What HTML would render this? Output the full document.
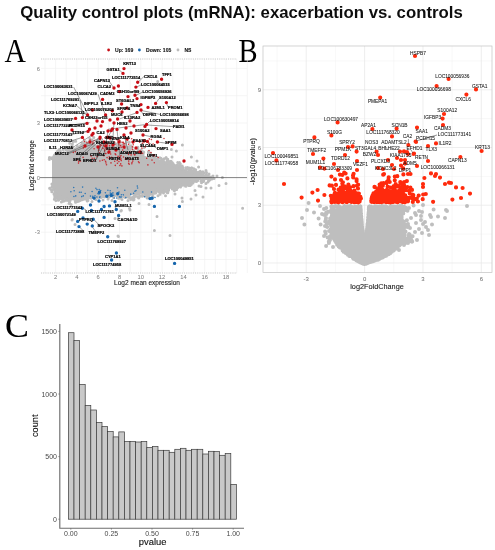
<!DOCTYPE html>
<html><head><meta charset="utf-8"><title>Quality control plots</title>
<style>html,body{margin:0;padding:0;background:#fff;}svg{display:block;font-family:"Liberation Sans",sans-serif;}</style></head>
<body><svg width="495" height="550" viewBox="0 0 495 550">
<defs><filter id="bl" x="0" y="0" width="495" height="550" filterUnits="userSpaceOnUse"><feGaussianBlur stdDeviation="0.35"/></filter></defs>
<g filter="url(#bl)">
<rect width="495" height="550" fill="#fff"/>
<text x="241.5" y="17.7" font-size="16.78" font-weight="bold" text-anchor="middle" fill="#111">Quality control plots (mRNA): exacerbation vs. controls</text>
<text transform="translate(4.6,62.4) scale(0.86,1)" font-size="34.5" font-family="Liberation Serif, serif" fill="#000">A</text>
<text transform="translate(238.6,62.2) scale(0.83,1)" font-size="34.5" font-family="Liberation Serif, serif" fill="#000">B</text>
<text transform="translate(5,337.2) scale(1.04,1)" font-size="34.5" font-family="Liberation Serif, serif" fill="#000">C</text>
<path d="M45.0 59V273M55.6 59V273M66.2 59V273M76.9 59V273M87.6 59V273M98.2 59V273M108.8 59V273M119.5 59V273M130.2 59V273M140.8 59V273M151.5 59V273M162.1 59V273M172.8 59V273M183.4 59V273M194.1 59V273M204.7 59V273M215.3 59V273M226.0 59V273M236.7 59V273M247.3 59V273M41 259.5H247M41 232.2H247M41 204.9H247M41 150.3H247M41 123.0H247M41 95.7H247M41 68.4H247" stroke="#eeeeee" stroke-width="0.6" fill="none"/>
<path d="M41 59H237M41 273H237" stroke="#b8b8b8" stroke-width="0.8" stroke-dasharray="1.1 1.1" fill="none"/>
<polygon points="52,159.5 56,158.0 60,156.5 66,154.5 72,151.0 80,149.0 90,147.5 100,147.0 110,147.0 120,148.0 130,150.0 140,154.0 153,159.0 163,162.0 173,165.0 183,168.5 193.5,172.5 200,175.5 205,177.3 209,178.3 209,176.4 205,177.9 195,179.9 185,183.4 175,187.4 165,190.4 155,192.4 145,193.9 135,194.9 127,194.9 115,194.4 100,194.9 90,195.9 82,197.9 77,199.9 70,200.4 62,199.4 57,197.5 54,192.5 52,186.5" fill="#bcbcbc"/>
<path d="M50.9 157.8h0M52.9 157.4h0M52.2 158.8h0M49.3 159.5h0M49.2 159.2h0M49.4 157.5h0M55.5 159.6h0M53.7 156.6h0M56.8 160.2h0M56.5 157.5h0M58.9 155.7h0M58.2 156.9h0M57.9 154.6h0M58.9 158.1h0M58.1 156.9h0M60.8 155.9h0M60.3 154.3h0M57.4 155.0h0M67.1 154.1h0M64.9 154.9h0M65.7 153.5h0M67.8 155.5h0M64.5 154.9h0M66.2 156.4h0M73.4 149.9h0M74.9 149.1h0M71.5 152.3h0M69.9 150.9h0M69.2 151.8h0M73.6 151.4h0M82.3 148.1h0M81.2 149.5h0M80.5 148.8h0M82.0 151.2h0M79.8 149.8h0M77.4 150.0h0M90.9 150.0h0M91.9 146.4h0M89.3 148.3h0M87.1 147.3h0M88.0 145.6h0M87.4 148.8h0M97.8 145.7h0M99.3 148.9h0M97.5 146.7h0M100.3 148.9h0M101.9 148.8h0M98.7 146.6h0M109.2 148.9h0M112.7 145.3h0M108.1 145.7h0M108.4 146.9h0M110.5 145.8h0M107.0 146.6h0M119.2 148.3h0M122.7 149.0h0M120.1 148.6h0M121.1 145.8h0M122.4 149.4h0M122.2 149.5h0M129.4 149.5h0M127.6 150.7h0M127.4 147.8h0M128.3 148.3h0M129.0 147.8h0M127.0 148.3h0M137.6 153.3h0M137.2 155.9h0M140.7 152.2h0M138.5 153.2h0M139.2 152.1h0M142.1 156.5h0M152.8 158.9h0M150.5 157.0h0M152.1 157.8h0M155.0 157.3h0M150.1 161.3h0M153.2 157.2h0M163.3 159.6h0M163.2 164.4h0M165.2 163.0h0M161.6 161.3h0M161.0 163.4h0M163.2 163.4h0M172.0 163.6h0M174.9 167.4h0M175.1 166.5h0M174.9 166.2h0M171.4 165.1h0M172.1 162.6h0M180.2 167.4h0M181.6 169.5h0M185.7 168.2h0M185.6 170.9h0M185.7 167.8h0M181.3 167.1h0M191.7 171.0h0M194.2 174.5h0M195.5 172.4h0M194.4 174.0h0M191.0 173.3h0M196.0 173.9h0M201.5 175.4h0M198.1 176.9h0M199.0 177.0h0M202.8 175.0h0M199.4 177.7h0M201.3 173.9h0M202.8 175.6h0M207.4 178.8h0M202.9 178.9h0M207.9 178.1h0M204.1 177.5h0M202.8 174.9h0M211.8 179.0h0M209.2 180.5h0M208.6 180.2h0M211.0 176.9h0M207.5 177.3h0M207.4 178.7h0M207.6 176.0h0M206.8 178.5h0M208.1 176.2h0M209.5 178.4h0M208.5 178.5h0M209.0 176.6h0M205.1 175.5h0M204.6 176.3h0M202.0 179.4h0M203.0 177.8h0M206.4 178.2h0M204.0 178.0h0M195.3 181.3h0M192.6 180.2h0M193.5 178.8h0M196.6 179.9h0M195.4 181.2h0M197.5 179.6h0M185.7 183.4h0M185.1 184.4h0M184.7 183.6h0M184.9 185.6h0M186.2 185.3h0M187.7 182.2h0M175.4 189.6h0M177.0 185.6h0M172.7 187.1h0M172.4 186.1h0M172.4 188.2h0M176.7 189.4h0M162.9 191.5h0M166.0 188.6h0M167.3 192.7h0M163.3 192.7h0M164.4 190.3h0M167.9 192.1h0M153.0 192.1h0M155.1 191.6h0M153.2 191.5h0M156.3 190.0h0M155.3 192.1h0M152.1 191.6h0M145.7 194.0h0M142.4 196.3h0M146.7 196.3h0M142.6 192.7h0M142.2 195.3h0M143.6 192.0h0M134.5 197.0h0M136.9 193.7h0M132.9 197.0h0M135.4 195.9h0M132.5 192.7h0M136.1 194.5h0M124.4 197.1h0M127.8 196.4h0M124.5 196.7h0M124.4 196.7h0M126.7 194.1h0M127.3 197.0h0M113.6 192.5h0M115.2 193.1h0M112.7 192.7h0M112.3 192.9h0M113.9 193.4h0M116.6 193.3h0M100.0 193.3h0M99.1 192.5h0M98.5 192.5h0M101.4 195.2h0M98.1 194.8h0M102.6 192.9h0M91.9 195.6h0M90.0 197.6h0M89.4 195.9h0M91.1 198.3h0M89.1 197.6h0M91.2 196.6h0M81.4 197.1h0M79.3 196.0h0M79.4 199.1h0M80.5 196.2h0M79.5 199.6h0M84.2 198.8h0M75.7 198.6h0M75.8 199.7h0M74.9 199.6h0M75.6 202.2h0M79.8 200.1h0M75.5 202.2h0M68.9 199.7h0M67.0 199.8h0M69.8 200.4h0M68.2 200.4h0M67.0 199.2h0M67.5 199.9h0M59.3 197.0h0M60.8 198.1h0M62.5 199.5h0M63.5 200.2h0M63.3 201.3h0M61.3 198.5h0M59.9 195.7h0M58.3 198.2h0M54.3 199.2h0M59.4 198.1h0M58.4 199.1h0M54.8 197.6h0M54.0 194.2h0M55.8 194.1h0M54.5 194.5h0M55.1 193.5h0M52.4 190.2h0M51.8 191.8h0M49.6 188.2h0M52.4 187.1h0M52.8 187.4h0M51.9 184.0h0M53.8 187.7h0M52.0 186.7h0M154.9 156.2h0M92.6 145.4h0M65.4 154.6h0M85.4 142.6h0M167.2 160.8h0M112.5 147.1h0M127.3 147.3h0M148.4 151.8h0M152.3 157.9h0M92.9 146.9h0M167.7 162.8h0M55.9 153.9h0M63.3 155.2h0M159.9 157.7h0M157.4 160.0h0M125.1 145.1h0M125.3 143.7h0M84.5 143.4h0M203.7 176.9h0M124.2 149.1h0M179.4 165.0h0M95.1 146.9h0M86.1 146.1h0M143.0 154.8h0M75.7 141.3h0M74.3 149.5h0M179.5 162.4h0M161.6 161.8h0M89.4 144.6h0M57.8 155.2h0M54.5 154.9h0M100.2 147.3h0M75.5 148.8h0M182.6 167.0h0M54.3 159.1h0M72.4 144.1h0M195.7 172.7h0M98.3 139.6h0M110.9 136.7h0M144.1 147.4h0M109.2 144.8h0M61.4 155.2h0M69.6 151.3h0M197.1 172.8h0M92.1 147.4h0M83.0 144.5h0M111.1 140.0h0M178.2 165.9h0M150.5 153.3h0M138.0 149.0h0M164.1 158.8h0M123.0 147.2h0M169.2 163.0h0M61.5 154.0h0M195.8 172.0h0M106.6 144.4h0M99.6 146.8h0M93.8 137.4h0M154.4 158.9h0M114.3 143.3h0M79.6 148.2h0M192.6 171.2h0M130.1 149.0h0M206.5 172.6h0M122.8 147.5h0M67.9 152.0h0M106.3 145.1h0M93.5 146.3h0M141.2 150.1h0M117.2 144.1h0M117.3 144.6h0M105.7 146.9h0M63.5 154.1h0M73.3 141.4h0M131.0 145.7h0M87.0 142.9h0M95.5 147.7h0M122.2 145.1h0M200.0 172.9h0M57.3 151.7h0M58.9 155.4h0M126.4 142.0h0M143.8 152.2h0M195.8 174.1h0M180.3 163.8h0M92.0 139.9h0M70.7 149.7h0M158.4 158.5h0M198.0 174.4h0M171.0 161.2h0M124.0 148.3h0M173.7 165.5h0M89.6 143.3h0M100.5 144.9h0M73.6 151.0h0M160.9 158.2h0M71.2 147.8h0M143.2 153.7h0M113.4 147.0h0M55.6 153.6h0M100.1 138.2h0M152.6 157.7h0M189.2 169.5h0M91.8 147.5h0M201.0 175.7h0M57.3 154.9h0M130.2 148.8h0M93.4 144.3h0M156.1 158.8h0M59.2 156.1h0M105.7 142.4h0M84.3 146.1h0M176.0 166.3h0M85.4 144.2h0M202.4 175.0h0M89.3 141.6h0M87.9 148.1h0M199.6 173.7h0M129.9 149.4h0M117.8 145.8h0M155.8 158.9h0M114.2 147.2h0M86.6 146.4h0M61.9 156.0h0M63.2 149.6h0M189.2 167.9h0M166.1 157.4h0M104.4 147.4h0M82.4 143.4h0M58.9 155.0h0M155.7 158.5h0M104.7 145.0h0M79.9 146.4h0M107.8 147.4h0M200.2 171.3h0M85.7 141.8h0M108.6 144.4h0M120.2 142.2h0M61.5 152.9h0M194.7 173.1h0M83.5 143.6h0M58.6 151.4h0M116.9 145.7h0M60.2 150.9h0M59.3 149.4h0M93.3 144.6h0M168.3 162.2h0M95.7 145.7h0M200.5 174.7h0M163.6 161.3h0M102.4 147.4h0M169.6 164.3h0M194.2 169.2h0M57.7 151.1h0M89.8 138.6h0M199.9 175.0h0M113.1 147.8h0M129.5 146.4h0M196.0 172.2h0M167.0 159.4h0M179.9 167.4h0M104.2 142.4h0M102.9 143.2h0M66.1 149.9h0M84.2 148.8h0M63.9 152.8h0M59.2 154.1h0M204.0 176.7h0M189.2 169.3h0M66.9 154.3h0M68.8 147.4h0M122.4 148.9h0M89.8 143.4h0M157.1 158.9h0M168.4 161.9h0M72.5 146.8h0M182.7 168.0h0M111.1 142.9h0M166.9 163.1h0M91.5 145.2h0M77.5 146.4h0M103.9 144.2h0M114.6 143.4h0M89.4 147.9h0M177.7 162.6h0M69.7 143.3h0M126.6 146.8h0M193.9 168.7h0M60.2 156.4h0M83.0 147.2h0M202.9 171.8h0M111.0 143.2h0M186.5 168.4h0M173.0 164.9h0M198.7 172.6h0M148.9 154.7h0M87.3 147.0h0M85.2 147.2h0M93.0 143.4h0M85.1 145.5h0M55.7 155.9h0M82.3 144.1h0M101.8 145.5h0M137.9 147.2h0M63.7 152.7h0M138.2 151.5h0M151.8 157.7h0M160.4 160.9h0M116.7 147.5h0M199.8 173.7h0M101.8 144.2h0M117.7 146.8h0M186.2 167.8h0M84.2 148.8h0M165.4 163.1h0M191.9 172.1h0M118.8 146.7h0M189.1 168.9h0M124.5 149.1h0M138.4 153.3h0M152.0 158.2h0M149.2 157.2h0M110.7 145.4h0M97.3 147.6h0M133.7 150.4h0M129.0 149.5h0M177.1 165.3h0M73.4 150.6h0M198.3 172.3h0M62.2 155.6h0M195.7 169.7h0M148.9 152.6h0M180.2 165.6h0M88.0 142.7h0M115.9 144.0h0M82.0 143.3h0M87.4 144.7h0M112.7 145.1h0M72.8 151.2h0M191.3 168.0h0M60.3 151.0h0M59.8 154.6h0M182.2 166.1h0M138.2 150.3h0M149.9 156.9h0M143.1 152.0h0M119.1 146.2h0M121.1 145.2h0M57.6 154.7h0M90.0 145.0h0M170.8 164.3h0M81.5 145.1h0M126.4 148.2h0M119.9 147.2h0M68.0 149.6h0M60.2 155.3h0M151.4 155.2h0M173.0 163.4h0M132.3 147.2h0M111.8 146.2h0M199.5 172.4h0M206.4 174.3h0M166.0 162.7h0M204.2 175.9h0M129.3 142.2h0M79.3 147.4h0M174.6 165.2h0M107.7 146.9h0M169.7 161.5h0M96.1 140.9h0M178.8 165.6h0M194.7 171.2h0M85.9 148.3h0M102.8 143.0h0M59.6 156.2h0M197.3 173.3h0M158.0 159.7h0M174.1 164.9h0M71.6 146.4h0M109.0 146.5h0M187.6 167.5h0M189.0 170.1h0M70.0 147.3h0M114.3 147.7h0M176.0 165.8h0M142.3 143.9h0M109.1 147.1h0M81.0 145.3h0M167.8 159.3h0M92.8 145.8h0M151.8 155.6h0M155.5 159.9h0M101.8 146.5h0M76.9 150.3h0M148.3 153.5h0M191.0 170.8h0M74.2 150.2h0M57.4 152.5h0M54.4 158.0h0M108.6 146.1h0M88.3 198.6h0M85.2 198.2h0M149.5 194.0h0M197.3 179.1h0M91.3 195.9h0M151.6 193.3h0M187.3 182.6h0M94.4 197.3h0M55.8 196.8h0M107.6 196.6h0M152.8 197.5h0M166.2 191.5h0M92.0 195.8h0M135.3 194.8h0M116.1 194.0h0M173.2 188.3h0M55.9 200.6h0M75.8 201.3h0M84.5 199.0h0M152.2 194.1h0M178.4 186.5h0M99.9 196.2h0M61.4 201.9h0M163.5 192.9h0M55.0 195.8h0M125.2 197.6h0M167.5 190.8h0M70.1 200.4h0M89.5 197.6h0M168.7 189.3h0M160.4 193.0h0M94.7 198.1h0M138.7 197.9h0M134.1 196.1h0M94.6 198.8h0M87.2 200.9h0M188.6 183.5h0M90.1 195.6h0M167.8 192.8h0M104.0 195.6h0M188.7 182.5h0M192.9 181.7h0M150.5 193.8h0M203.8 181.0h0M125.8 196.3h0M185.2 186.0h0M120.9 194.6h0M101.1 197.4h0M86.4 197.0h0M193.4 180.6h0M76.1 200.6h0M196.1 179.4h0M106.8 194.5h0M60.4 198.7h0M160.0 193.4h0M166.7 192.1h0M64.1 201.1h0M179.1 186.5h0M179.4 185.8h0M186.8 182.8h0M193.9 180.9h0M85.5 196.9h0M71.1 204.4h0M178.2 186.6h0M151.0 194.0h0M98.0 197.6h0M69.3 203.1h0M85.4 198.9h0M102.8 194.7h0M93.3 195.3h0M97.2 195.2h0M103.1 196.5h0M201.5 182.8h0M148.6 193.0h0M58.7 199.9h0M172.3 189.1h0M107.1 195.0h0M87.1 199.0h0M185.9 186.3h0M80.1 200.6h0M54.2 193.5h0M203.6 181.6h0M54.7 195.9h0M175.9 186.7h0M82.2 199.6h0M181.3 184.5h0M93.9 196.9h0M86.9 196.9h0M161.0 191.9h0M151.4 192.5h0M66.4 200.3h0M174.4 190.7h0M150.1 194.1h0M114.4 195.8h0M190.2 185.4h0M57.9 199.9h0M85.5 196.9h0M130.7 199.5h0M112.0 195.3h0M124.5 195.5h0M135.3 194.5h0M152.9 196.2h0M107.3 194.8h0M183.0 184.9h0M155.3 191.9h0M121.1 195.6h0M172.3 188.8h0M124.7 194.9h0M189.4 181.5h0M100.1 196.0h0M161.6 191.4h0M77.9 200.2h0M91.9 196.6h0M78.6 201.3h0M104.2 196.7h0M165.5 195.8h0M69.6 200.9h0M112.8 194.2h0M204.5 178.6h0M120.5 197.9h0M84.0 197.6h0M85.6 197.4h0M113.4 196.3h0M175.0 187.4h0M160.1 194.3h0M124.9 194.3h0M75.7 201.4h0M167.4 190.7h0M192.9 183.0h0M168.6 190.2h0M118.4 194.6h0M188.7 185.4h0M172.4 189.1h0M158.0 195.8h0M152.2 194.3h0M150.1 193.2h0M69.0 203.4h0M163.1 192.3h0M150.3 192.6h0M123.6 196.8h0M149.1 195.8h0M196.3 181.1h0M82.0 199.8h0M113.5 197.4h0M128.9 195.1h0M137.1 194.3h0M78.6 199.9h0M133.4 200.0h0M69.5 202.5h0M163.7 191.5h0M132.4 197.3h0M133.8 197.9h0M116.8 195.5h0M158.7 191.7h0M114.1 194.0h0M204.6 178.7h0M108.4 195.9h0M115.2 194.6h0M56.0 197.6h0M160.8 192.0h0M107.9 194.3h0M167.4 190.9h0M197.8 180.5h0M176.6 186.5h0M114.0 194.2h0M172.8 188.8h0M177.9 187.5h0M140.0 195.9h0M88.6 197.9h0M151.7 192.9h0M179.3 186.3h0M99.0 197.0h0M137.9 197.3h0M108.3 197.3h0M184.2 183.5h0M92.8 197.4h0M119.2 194.1h0M164.4 190.2h0M97.0 194.8h0M127.4 196.4h0M119.6 196.4h0M109.5 196.8h0M196.1 179.7h0M180.7 185.3h0M192.6 180.5h0M181.2 185.7h0M150.9 192.9h0M199.6 178.5h0M154.4 192.0h0M75.8 200.6h0M89.7 195.8h0M77.4 201.4h0M192.3 180.7h0M190.3 182.4h0M147.1 193.8h0M190.8 184.4h0M174.6 187.9h0M160.0 192.3h0M135.2 194.5h0M189.1 184.1h0M138.9 194.2h0M75.3 201.3h0M129.4 196.9h0M76.1 200.4h0M129.2 197.4h0M186.0 182.6h0M55.0 195.1h0M140.1 196.2h0M155.8 193.0h0M118.1 196.0h0M201.0 181.2h0M151.3 194.0h0M58.4 200.3h0M196.5 181.4h0M104.6 197.1h0M128.2 194.7h0M191.3 184.4h0M149.7 193.5h0M105.8 195.7h0M126.6 196.1h0M134.4 194.6h0M120.6 195.8h0M118.6 198.3h0M98.8 196.0h0M180.6 187.0h0M95.6 196.5h0M131.5 197.9h0M175.2 187.4h0M104.6 195.1h0M143.7 195.4h0M151.1 192.6h0M164.6 190.7h0M189.5 182.1h0M100.0 194.6h0M55.0 195.6h0M147.1 198.1h0M154.7 193.2h0M147.6 198.1h0M148.4 195.5h0M145.2 196.0h0" stroke="#bcbcbc" stroke-width="3.0" stroke-linecap="round" fill="none" opacity="1"/>
<path d="M72.3 219.5h0M75.0 224.6h0M115.0 218.6h0M121.4 210.5h0M129.5 208.6h0M82.3 199.5h0M88.0 200.5h0M96.0 199.5h0M103.0 200.0h0M108.0 199.0h0M122.0 199.5h0M128.0 200.5h0M134.0 199.5h0M112.0 200.5h0M92.0 201.5h0M157.7 81.6h0M152.3 96.7h0M182.4 145.0h0M176.4 151.0h0M171.4 149.6h0M172.0 157.0h0M191.4 157.0h0M197.0 161.0h0M198.6 167.0h0M192.0 168.0h0M201.0 172.4h0M204.0 173.0h0M213.0 176.0h0M222.4 177.6h0M210.0 179.6h0M226.0 183.4h0M219.0 185.4h0M206.0 183.6h0M211.0 188.0h0M206.0 188.0h0M201.0 186.6h0M195.0 190.6h0M196.0 195.0h0M203.0 197.0h0M191.0 199.0h0M182.0 198.0h0M182.4 201.4h0M175.0 194.0h0M157.0 216.6h0M154.4 230.6h0M170.0 235.4h0M149.0 204.4h0M139.0 203.6h0M51.0 189.6h0M72.0 220.0h0M118.0 236.0h0M121.0 211.0h0M130.0 210.0h0M118.4 236.4h0M242.6 208.3h0M206.0 170.5h0M209.0 174.0h0M214.0 178.5h0M217.0 176.0h0M203.0 181.0h0M208.0 182.0h0M199.0 186.0h0M196.0 172.0h0" stroke="#bcbcbc" stroke-width="3.0" stroke-linecap="round" fill="none" opacity="1"/>
<path d="M40 177.6H247" stroke="#5a5a5a" stroke-width="0.75"/>
<path d="M111.6 157.3h0M104.2 159.8h0M120.5 157.0h0M123.5 157.0h0M135.0 154.6h0M83.3 147.9h0M108.3 153.3h0M139.2 141.4h0M128.7 161.1h0M120.7 163.9h0M139.7 152.0h0M119.9 165.5h0M109.3 156.8h0M123.3 143.9h0M151.4 139.5h0M119.0 139.6h0M120.9 158.7h0M121.0 159.1h0M154.1 156.0h0M129.8 159.0h0M94.1 148.7h0M93.0 143.0h0M117.3 139.9h0M114.7 161.3h0M104.7 141.7h0M151.0 152.6h0M98.6 150.6h0M139.3 141.8h0M97.3 156.4h0M142.0 148.2h0M154.3 154.7h0M104.9 137.8h0M106.1 148.6h0M78.5 163.1h0M102.8 148.3h0M106.8 148.9h0M80.4 161.0h0M90.1 140.0h0M92.2 158.3h0M131.7 138.8h0M134.7 154.9h0M77.1 160.1h0M98.6 149.0h0M73.3 152.4h0M129.2 164.2h0M152.9 155.0h0M103.4 145.1h0M121.2 160.6h0M152.0 160.1h0M138.9 152.1h0M138.1 152.4h0M100.3 144.9h0M132.4 149.4h0M149.0 150.5h0M121.9 165.9h0M123.4 142.4h0M121.0 155.5h0M105.5 153.5h0M132.0 162.5h0M102.4 160.3h0M111.0 162.9h0M141.7 146.6h0M122.2 142.2h0M131.2 151.8h0M131.8 163.7h0M99.9 139.5h0M105.2 146.7h0M83.1 157.4h0M75.4 151.7h0M103.5 145.8h0M117.2 160.4h0M138.5 161.8h0M125.8 153.0h0M84.3 141.4h0M119.6 157.6h0M86.9 142.7h0M97.9 146.7h0M104.7 146.2h0M119.6 157.6h0M115.0 137.7h0M103.8 142.4h0M148.9 143.6h0M83.8 139.2h0M135.0 151.8h0M92.1 161.4h0M109.5 145.8h0M109.2 158.6h0M145.3 146.9h0M153.1 144.0h0M128.6 144.4h0M101.2 145.2h0M164.0 138.5h0M158.1 157.4h0M100.1 146.7h0M120.6 145.6h0M168.1 142.5h0M117.4 163.3h0M115.3 165.4h0M99.9 161.0h0M118.9 161.6h0M119.1 144.8h0M131.1 154.9h0M109.9 143.0h0M114.5 142.1h0M103.9 155.8h0M115.8 154.8h0M132.8 161.1h0M120.4 159.1h0M125.7 158.8h0M125.4 159.2h0M99.5 152.8h0M139.2 162.7h0M104.6 142.5h0M109.2 149.7h0M127.7 140.1h0M93.0 142.0h0M126.9 158.6h0M103.0 148.4h0M149.3 138.9h0M142.6 153.3h0M110.7 154.0h0M133.3 144.7h0M114.8 144.3h0M127.7 158.2h0M119.9 140.5h0M94.3 158.3h0M105.6 161.4h0M128.8 152.8h0M121.2 147.3h0M108.1 152.8h0M124.7 143.8h0M117.7 158.1h0M104.8 150.1h0M132.4 146.9h0M95.3 160.2h0M119.2 147.5h0M137.8 157.8h0M135.0 141.4h0M78.8 161.6h0M118.1 156.4h0M141.0 153.8h0M94.2 140.5h0M128.7 163.4h0M146.7 158.2h0M106.0 163.0h0M107.1 157.6h0M104.6 150.9h0M105.9 153.5h0M106.5 164.7h0M107.2 143.1h0M147.9 164.9h0M115.2 153.9h0M142.5 143.2h0M111.9 147.5h0M139.6 142.3h0M134.1 154.3h0M92.5 144.1h0M91.1 155.9h0M124.7 148.1h0M122.7 150.0h0M144.0 140.3h0M128.5 154.5h0M105.6 143.5h0M107.3 144.1h0M154.3 162.7h0" stroke="#c8161d" stroke-width="1.6" stroke-linecap="round" fill="none" opacity="0.85"/>
<path d="M134.9 191.3h0M121.4 194.8h0M125.8 197.5h0M123.3 194.9h0M124.8 190.2h0M130.7 194.1h0M75.7 195.9h0M79.5 192.2h0M109.1 195.1h0M70.9 191.7h0M120.5 197.0h0M73.7 187.5h0M113.6 195.2h0M110.3 193.0h0M112.9 192.9h0M73.9 196.5h0M133.6 193.3h0M92.1 191.5h0M130.8 194.7h0M105.4 192.7h0M136.0 190.6h0M92.8 196.2h0M151.5 192.0h0M97.0 189.6h0M117.5 187.7h0M82.6 187.1h0M96.9 197.0h0M90.5 196.1h0M155.0 197.5h0M119.5 196.9h0M137.3 186.1h0M142.8 192.0h0M121.5 197.0h0M116.6 198.0h0M81.2 192.2h0M74.2 190.7h0M107.9 190.3h0M92.7 197.4h0M99.0 194.1h0M100.7 190.5h0M110.2 190.8h0M81.7 196.6h0M99.7 197.6h0M85.2 193.5h0M114.2 198.0h0M95.0 195.8h0M137.6 188.0h0M83.3 195.9h0M99.9 196.7h0M111.0 194.3h0M144.6 196.7h0M99.2 189.5h0M119.0 192.1h0M95.9 188.2h0M111.5 193.6h0M93.4 197.9h0M97.9 193.6h0" stroke="#1a6db5" stroke-width="1.6" stroke-linecap="round" fill="none" opacity="0.85"/>
<path d="M73.6 87L88 114.6M98 94L105 114M80 100L83 117M76.4 105.4L87.2 114.6M109 81L113.6 87.6M120 70.6L122.6 73M72 119.4L75.6 118.4M71 134.4L88 131.4M72 140.6L82.4 137.4M73 147.4L92 135M69 153.4L95 143M87 152L98 142M108 129.3L146.6 124.4M120 118.8L137 112.6M150 121L146.6 124.4M173 126.6L147 125M144 76.4L138.5 81.8M141 85L136.5 87M142.6 92L136 95.3M159 98.6L156 103M168 107L166.4 103M143 114.6L141 110.4M160 114.4L141 110.4M150.6 136.6L143.4 135M165 143L157.4 142M157 148.6L147.4 141.4M83 113L87.6 115M68 125.4L87 123.4M104 154L108 131M96 160L112.4 129M112 150L114 123M120 158L117 129.4M128 150L124 135M67.6 153.2L98.2 138.6M83.6 152.5L98.9 138.6M98.2 153.2L100.4 138.6M96 159.7L102.5 138.6M71.3 134.3L86.5 131.4M83 113L83.6 116.8M69 125.4L89.5 122.6M53 112.7L55.3 112.7M79 159L82 154M82 207.6L86 210M91 220L94 219.6M100 226L94 219.6M84 231.4L79 226.6M96 232L92 226.6M118 219L118.4 215.4M115 206L116 210" stroke="#444" stroke-width="0.5" fill="none"/>
<path d="M124.0 68.6h0M123.0 73.4h0M118.4 86.0h0M114.0 88.0h0M137.7 82.2h0M135.9 87.1h0M128.0 96.6h0M102.6 99.4h0M137.0 98.6h0M121.6 104.0h0M92.4 110.0h0M87.6 115.0h0M82.4 117.6h0M75.6 118.4h0M105.6 115.0h0M117.6 119.0h0M110.0 120.0h0M87.0 123.4h0M114.0 123.0h0M112.4 129.0h0M117.0 129.4h0M108.0 131.0h0M88.0 131.4h0M95.0 128.0h0M72.0 130.0h0M92.0 135.0h0M82.4 137.4h0M124.0 135.0h0M133.0 142.0h0M119.0 142.0h0M161.6 79.2h0M119.5 91.6h0M135.0 95.3h0M112.3 110.7h0M155.6 103.4h0M166.4 102.6h0M141.0 104.6h0M148.0 107.4h0M141.0 110.0h0M137.0 112.4h0M146.6 124.4h0M145.0 126.4h0M156.0 128.6h0M143.0 135.0h0M144.0 141.0h0M147.4 141.4h0M157.4 142.0h0M172.0 144.4h0M184.0 161.0h0M100.0 138.0h0M104.0 142.0h0M110.0 138.0h0M113.0 145.0h0M127.0 139.0h0M131.0 133.0h0M126.0 128.0h0M130.0 121.0h0M134.0 126.0h0M122.0 112.0h0M127.0 108.0h0M97.0 121.0h0M101.0 126.0h0M106.0 146.0h0M98.0 147.0h0M116.0 150.0h0M124.0 147.0h0M136.0 148.0h0M140.0 152.0h0M90.0 142.0h0M85.0 146.0h0M109.0 152.0h0M89.5 129.2h0M93.1 133.5h0M100.1 137.2h0M102.5 121.6h0M107.6 137.2h0M111.3 130.6h0" stroke="#c70f16" stroke-width="3.4" stroke-linecap="round" fill="none" opacity="1"/>
<path d="M77.7 221.4h0M87.2 224.1h0M92.3 225.9h0M93.2 219.2h0M104.1 217.4h0M107.7 236.8h0M118.6 215.5h0M116.3 209.5h0M115.0 201.7h0M117.7 193.7h0M111.4 195.5h0M106.8 196.3h0M94.1 198.1h0M99.0 201.0h0M90.5 205.0h0M91.4 210.5h0M82.3 208.3h0M104.1 206.5h0M109.5 205.9h0M101.4 209.5h0M77.7 211.4h0M99.5 192.3h0M79.0 226.6h0M83.0 218.0h0M116.4 253.0h0M111.6 260.0h0M150.0 198.6h0M152.0 198.2h0M154.4 206.4h0M179.4 206.4h0M174.6 263.4h0" stroke="#1465ac" stroke-width="3.4" stroke-linecap="round" fill="none" opacity="1"/>
<g font-size="4.05" font-weight="bold" fill="#000" stroke="#000" stroke-width="0.2">
<text x="123.2" y="65.3">KRT13</text>
<text x="106.5" y="71.3">GSTA1</text>
<text x="112" y="79.3">LOC111773514</text>
<text x="94" y="81.9">CAPN13</text>
<text x="97.5" y="88.3">CLCA2</text>
<text x="44" y="88.3">LOC100063031</text>
<text x="68" y="94.7">LOC100067439</text>
<text x="100" y="95.3">CADM3</text>
<text x="116.8" y="92.9">C1H10orf99</text>
<text x="51" y="101.3">LOC111769291</text>
<text x="116" y="101.9">ST6GAL2</text>
<text x="63" y="106.7">KCNA7</text>
<text x="84" y="104.9">INPPL2</text>
<text x="101" y="104.9">IL1R2</text>
<text x="130" y="107.3">TNS4</text>
<text x="85" y="111.3">LOC100076203</text>
<text x="117" y="109.9">SFRP4</text>
<text x="44" y="114.3">TLX3</text>
<text x="56" y="114.3">LOC100066131</text>
<text x="111" y="115.9">MUC6</text>
<text x="44" y="120.7">LOC100630657</text>
<text x="85" y="118.7">C8H22orf15</text>
<text x="124" y="118.9">IL13RA2</text>
<text x="44" y="126.7">LOC111772220</text>
<text x="69" y="126.7">PCDH15</text>
<text x="117" y="124.7">HES2</text>
<text x="44" y="135.7">LOC111773141</text>
<text x="72" y="133.9">TTT12</text>
<text x="96.6" y="133.9">CA2</text>
<text x="44" y="141.9">LOC111770812</text>
<text x="49" y="148.7">IL11</text>
<text x="60" y="148.7">H3R2A</text>
<text x="55" y="154.7">MUC12</text>
<text x="76" y="154.7">ADAG</text>
<text x="90" y="155.7">CITED4</text>
<text x="73" y="160.7">SP6</text>
<text x="83" y="161.7">EFHD1</text>
<text x="109" y="159.7">RETN</text>
<text x="106" y="149.9">SUSD4</text>
<text x="120" y="153.7">ADAMTSL2</text>
<text x="125" y="160.3">MGAT3</text>
<text x="105" y="138.5">SRC</text>
<text x="112" y="139.5">ZNF</text>
<text x="120" y="138.5">KIAA</text>
<text x="96" y="143.5">BHLHE22</text>
<text x="144" y="77.7">CXCL6</text>
<text x="162" y="75.9">TFF1</text>
<text x="141" y="86.3">LOC100064515</text>
<text x="142.6" y="93.3">LOC100056936</text>
<text x="140.6" y="99.3">IGFBP3</text>
<text x="159" y="99.3">S100A12</text>
<text x="151.4" y="109.3">A2ML1</text>
<text x="168" y="108.9">PROM1</text>
<text x="143" y="115.9">DEFB1</text>
<text x="160" y="115.7">LOC100056698</text>
<text x="150" y="121.9">LOC100058814</text>
<text x="173" y="127.9">PADI1</text>
<text x="160" y="131.9">SAA1</text>
<text x="135" y="131.9">S100A2</text>
<text x="150.6" y="137.9">RGS4</text>
<text x="165" y="144.3">SPPM</text>
<text x="157" y="150.3">DMP1</text>
<text x="140" y="147.3">SLC4A4</text>
<text x="147" y="157.3">UPP1</text>
<text x="133" y="141.5">PAAS1</text>
<text x="54" y="208.9">LOC111771542</text>
<text x="85.6" y="212.9">LOC111771761</text>
<text x="115" y="207.3">MUM1L1</text>
<text x="47" y="215.7">LOC100072149</text>
<text x="79" y="221.3">PTPRQ</text>
<text x="117.6" y="221.3">CACNA1D</text>
<text x="97.6" y="227.3">SPOCK3</text>
<text x="56" y="232.7">LOC111773898</text>
<text x="88.4" y="233.7">TMEFF2</text>
<text x="97.6" y="243.3">LOC111768927</text>
<text x="105" y="258.3">CYP1A1</text>
<text x="93" y="266.3">LOC111774958</text>
<text x="165" y="259.6">LOC100049851</text>
</g>
<g font-size="5.8" fill="#7a7a7a" text-anchor="middle">
<text x="55.6" y="279.2">2</text>
<text x="76.9" y="279.2">4</text>
<text x="98.2" y="279.2">6</text>
<text x="119.5" y="279.2">8</text>
<text x="140.8" y="279.2">10</text>
<text x="162.1" y="279.2">12</text>
<text x="183.4" y="279.2">14</text>
<text x="204.7" y="279.2">16</text>
<text x="226.0" y="279.2">18</text>
</g><g font-size="5.8" fill="#7a7a7a" text-anchor="end">
<text x="40" y="70.5">6</text>
<text x="40" y="125.1">3</text>
<text x="40" y="179.7">0</text>
<text x="40" y="234.3">-3</text>
</g>
<text x="147.0" y="285.0" font-size="6.5" text-anchor="middle" font-weight="normal" fill="#111" stroke="#111" stroke-width="0.08">Log2 mean expression</text>
<text transform="translate(33.6,165.5) rotate(-90)" font-size="6.6" text-anchor="middle" fill="#111" stroke="#111" stroke-width="0.08">Log2 fold change</text>
<path d="M108.6 50.0h0" stroke="#c70f16" stroke-width="2.8" stroke-linecap="round" fill="none" opacity="1"/>
<path d="M139.4 50.0h0" stroke="#1465ac" stroke-width="2.8" stroke-linecap="round" fill="none" opacity="1"/>
<path d="M178.0 50.0h0" stroke="#bcbcbc" stroke-width="2.8" stroke-linecap="round" fill="none" opacity="1"/>
<g font-size="5.05" font-weight="bold" fill="#111" stroke="#111" stroke-width="0.1">
<text x="115" y="51.7">Up: 169</text><text x="146" y="51.7">Down: 105</text><text x="184.4" y="51.7">NS</text></g>
<path d="M277.1 46V272.4M335.4 46V272.4M393.8 46V272.4M452.1 46V272.4M263 234.1H492M263 176.4H492M263 118.6H492M263 60.9H492" stroke="#f0f0f0" stroke-width="0.5" fill="none"/>
<path d="M306.2 46V272.4M364.6 46V272.4M423.0 46V272.4M481.3 46V272.4M263 263.0H492M263 205.2H492M263 147.5H492M263 89.8H492" stroke="#e6e6e6" stroke-width="0.7" fill="none"/>
<path d="M359.0 251.7h0M339.2 246.1h0M391.2 223.7h0M379.9 240.0h0M352.3 238.1h0M371.0 243.5h0M364.6 263.8h0M340.3 229.8h0M385.0 215.1h0M339.1 212.2h0M368.5 215.9h0M372.7 253.7h0M348.5 252.8h0M386.4 206.7h0M382.4 224.7h0M343.5 226.5h0M338.8 221.5h0M369.2 258.4h0M335.3 228.4h0M369.6 257.7h0M364.5 261.7h0M352.4 242.0h0M397.5 208.6h0M360.9 255.6h0M375.9 258.1h0M374.3 223.6h0M365.2 261.7h0M361.6 261.1h0M382.9 228.6h0M353.6 218.8h0M366.9 256.8h0M356.1 252.0h0M357.1 216.1h0M399.5 216.8h0M371.4 222.9h0M369.4 212.7h0M360.3 228.4h0M340.7 209.8h0M361.7 253.9h0M345.3 220.2h0M348.5 222.4h0M378.8 208.0h0M342.6 225.8h0M345.1 246.9h0M390.5 221.6h0M380.0 254.5h0M356.7 215.2h0M361.7 247.9h0M361.5 261.6h0M365.6 261.2h0M381.4 213.6h0M395.0 221.1h0M359.7 240.1h0M374.5 220.3h0M392.8 218.3h0M352.4 237.5h0M362.5 250.8h0M373.3 244.1h0M359.2 224.0h0M344.5 211.0h0M361.1 255.4h0M344.4 244.4h0M359.0 238.6h0M353.5 235.0h0M353.9 209.8h0M340.8 219.1h0M356.3 247.6h0M396.7 229.4h0M387.2 250.9h0M354.6 256.0h0M333.9 222.0h0M378.8 245.4h0M360.9 226.4h0M381.6 244.2h0M391.2 220.4h0M376.3 226.4h0M340.2 216.5h0M372.7 258.9h0M342.4 247.3h0M343.5 208.3h0M353.2 217.5h0M334.1 228.1h0M376.8 224.0h0M390.4 216.4h0M383.3 239.1h0M359.7 245.7h0M391.0 206.1h0M357.7 251.0h0M392.2 208.5h0M338.8 241.2h0M339.7 220.2h0M354.5 251.9h0M373.0 259.0h0M380.8 211.0h0M385.0 228.8h0M358.9 254.1h0M398.4 211.2h0M398.4 230.6h0M382.9 246.1h0M373.1 254.1h0M335.7 232.3h0M364.5 246.5h0M398.6 235.7h0M385.3 213.4h0M381.5 208.5h0M357.4 252.7h0M400.9 237.7h0M371.7 243.0h0M336.1 220.5h0M360.8 226.8h0M353.7 217.7h0M381.4 213.9h0M352.7 244.9h0M368.0 220.0h0M398.9 231.8h0M352.8 226.4h0M356.2 257.3h0M357.1 238.7h0M370.1 253.3h0M351.3 250.1h0M375.1 244.7h0M386.9 232.7h0M352.2 254.2h0M357.2 222.8h0M336.3 218.0h0M345.7 222.3h0M365.7 246.7h0M354.8 212.6h0M358.0 233.2h0M337.2 215.7h0M402.1 206.6h0M346.5 249.5h0M395.7 247.6h0M341.7 238.7h0M369.8 217.0h0M396.9 206.5h0M377.1 243.4h0M369.1 260.2h0M349.1 220.6h0M334.1 214.0h0M385.1 250.9h0M344.8 223.2h0M391.2 243.0h0M359.2 259.7h0M384.0 251.5h0M359.1 249.1h0M389.4 216.7h0M357.7 224.6h0M359.4 238.0h0M357.3 254.2h0M372.0 208.4h0M389.6 242.4h0M392.1 246.9h0M365.7 260.8h0M343.5 235.0h0M372.8 223.4h0M380.3 210.7h0M361.0 262.2h0M382.3 217.1h0M391.4 206.2h0M378.1 255.6h0M352.0 230.7h0M369.9 244.4h0M355.9 230.4h0M379.5 231.4h0M384.6 253.9h0M352.7 215.5h0M372.2 231.7h0M345.4 226.2h0M354.8 210.9h0M401.6 232.7h0M376.4 258.7h0M368.6 262.5h0M389.2 242.0h0M379.6 209.5h0M355.3 241.3h0M399.3 239.1h0M378.5 233.9h0M356.0 223.4h0M352.7 257.3h0M379.2 217.0h0M337.9 231.9h0M360.9 244.3h0M362.9 239.7h0M372.8 236.7h0M339.6 229.0h0M393.9 216.5h0M341.5 237.8h0M358.9 256.0h0M369.3 211.5h0M349.6 238.1h0M342.2 239.2h0M374.5 235.8h0M360.7 210.7h0M369.3 256.1h0M383.2 247.4h0M401.3 212.6h0M346.3 247.9h0M363.5 254.2h0M398.8 215.9h0M387.3 238.7h0M386.2 213.9h0M348.7 209.3h0M332.4 227.6h0M349.5 240.5h0M381.7 223.4h0M395.4 230.7h0M393.1 242.0h0M397.1 238.7h0M356.3 256.5h0M360.0 249.2h0M377.5 250.3h0M352.3 253.9h0M384.1 227.6h0M369.2 261.0h0M374.5 208.5h0M370.5 211.8h0M350.6 252.6h0M370.5 259.7h0M345.4 220.8h0M391.9 231.9h0M342.5 239.7h0M339.8 207.2h0M353.8 252.4h0M353.9 238.1h0M361.6 245.9h0M393.1 214.4h0M381.5 237.2h0M387.9 252.9h0M356.2 206.8h0M377.3 256.6h0M344.9 208.1h0M375.6 253.5h0M390.9 215.2h0M394.0 228.8h0M340.8 241.4h0M346.9 225.1h0M369.7 257.9h0M344.0 208.5h0M361.0 239.5h0M331.8 226.5h0M357.3 239.6h0M362.7 263.2h0M378.9 214.5h0M351.0 221.8h0M351.0 235.0h0M370.4 239.0h0M371.9 261.5h0M371.5 208.0h0M386.9 250.7h0M374.8 250.9h0M360.0 242.8h0M387.8 222.3h0M381.9 256.6h0M357.0 245.5h0M380.5 250.3h0M377.8 235.5h0M370.7 226.3h0M335.8 229.5h0M354.5 225.6h0M364.6 263.3h0M348.8 227.3h0M356.4 219.6h0M332.7 213.9h0M365.9 256.5h0M372.6 231.8h0M343.6 223.5h0M353.3 209.8h0M383.1 223.9h0M398.6 238.0h0M397.1 225.7h0M340.3 239.8h0M372.5 216.4h0M364.1 263.3h0M364.7 250.9h0M352.8 256.4h0M396.6 234.1h0M349.9 222.0h0M343.7 207.3h0M381.3 221.5h0M359.9 218.7h0M374.0 217.6h0M372.7 256.1h0M383.1 217.4h0M366.3 261.9h0M388.8 210.6h0M362.2 256.8h0M345.3 213.9h0M394.5 237.1h0M396.1 243.1h0M354.8 218.3h0M376.2 249.5h0M380.2 229.5h0M335.6 225.6h0M334.8 230.0h0M358.1 242.3h0M375.1 234.7h0M397.3 206.8h0M401.8 238.7h0M375.2 209.2h0M359.0 248.0h0M343.1 211.4h0M385.6 214.3h0M389.1 211.2h0M370.3 230.5h0M372.3 240.1h0M375.4 244.1h0M384.2 225.2h0M381.8 221.0h0M382.4 250.3h0M386.3 223.9h0M364.5 262.7h0M368.6 222.1h0M359.3 260.6h0M386.4 244.0h0M402.1 227.0h0M384.8 219.2h0M334.1 211.2h0M336.3 213.8h0M372.1 235.1h0M397.4 216.5h0M342.0 227.2h0M383.4 216.3h0M358.7 259.4h0M386.9 207.7h0M400.7 220.1h0M377.9 234.9h0M388.5 226.0h0M355.1 232.7h0M356.3 258.4h0M344.8 248.5h0M362.7 243.4h0M352.3 256.1h0M362.3 238.7h0M377.4 259.3h0M350.9 242.4h0M350.3 220.6h0M348.3 231.2h0M384.9 217.8h0M356.0 243.3h0M364.0 263.7h0M345.1 239.0h0M380.4 256.1h0M384.7 221.5h0M358.8 253.7h0M357.1 257.7h0M374.7 245.6h0M373.4 232.3h0M358.2 257.2h0M362.9 257.2h0M385.9 251.2h0M392.1 216.6h0M364.2 263.7h0M339.9 207.4h0M360.9 262.5h0M357.9 258.9h0M346.6 248.7h0M379.6 215.8h0M355.9 211.2h0M372.0 259.3h0M382.3 257.2h0M348.6 207.9h0M377.0 251.9h0M333.5 212.1h0M364.0 263.5h0M355.2 257.0h0M341.9 234.3h0M344.5 230.9h0M347.6 245.8h0M368.5 248.8h0M356.8 212.5h0M398.1 234.8h0M346.8 226.3h0M368.9 262.1h0M356.1 248.4h0M350.6 216.3h0M335.1 210.0h0M361.6 235.5h0M359.0 238.3h0M380.6 206.6h0M371.8 243.9h0M381.6 237.8h0M366.9 263.0h0M362.9 247.6h0M361.3 224.5h0M363.9 262.4h0M360.7 228.4h0M401.7 214.3h0M375.0 206.3h0M361.0 259.7h0M360.6 241.4h0M345.8 220.0h0M391.0 212.7h0M387.8 251.5h0M380.9 208.9h0M377.4 224.8h0M355.6 237.8h0M360.4 262.4h0M387.2 249.3h0M374.7 235.6h0M364.0 263.7h0M384.7 242.5h0M382.4 228.0h0M369.1 228.8h0M380.4 241.5h0M376.2 224.7h0M349.1 237.5h0M353.3 241.5h0M366.2 258.7h0M369.8 247.9h0M347.9 233.6h0M396.7 214.2h0M369.9 236.7h0M390.3 236.6h0M344.0 219.8h0M366.3 253.7h0M390.0 243.2h0M377.7 257.9h0M358.9 208.5h0M380.7 254.3h0M342.9 213.1h0M339.1 220.6h0M388.8 226.7h0M359.8 211.1h0M364.8 263.8h0M379.9 252.3h0M379.5 214.7h0M368.6 227.3h0M357.9 219.8h0M358.6 225.7h0M346.2 207.0h0M338.4 239.1h0M382.0 216.3h0M354.6 221.9h0M390.3 220.0h0M376.6 211.3h0M356.9 255.8h0M388.5 230.5h0M360.4 241.8h0M382.3 227.3h0M360.5 223.1h0M388.8 243.6h0M358.9 226.4h0M397.3 239.6h0M399.5 217.1h0M361.3 247.3h0M358.3 244.6h0M385.1 210.1h0M369.0 228.0h0M396.9 234.8h0M343.7 249.9h0M366.1 240.4h0M392.2 232.8h0M365.4 257.6h0M368.9 234.5h0M375.0 253.8h0M363.1 248.9h0M379.9 208.4h0M387.0 238.1h0M349.0 250.7h0M337.4 218.8h0M350.9 253.4h0M384.9 211.1h0M338.0 238.7h0M381.6 245.5h0M336.0 234.0h0M363.9 246.1h0M402.1 239.9h0M383.9 253.4h0M355.4 214.4h0M333.2 236.1h0M363.8 263.3h0M353.8 221.2h0M392.1 220.8h0M369.2 238.2h0M335.3 230.4h0M393.0 223.7h0M384.2 252.5h0M346.1 220.9h0M369.8 209.0h0M374.0 234.4h0M388.7 227.2h0M396.0 217.6h0M337.5 238.3h0M369.4 224.2h0M372.0 229.7h0M351.0 224.8h0M358.5 252.2h0M385.9 247.2h0M365.6 240.3h0M365.1 260.2h0M353.2 256.9h0M377.6 231.2h0M392.7 208.8h0M373.9 210.2h0M396.2 216.4h0M389.1 238.5h0M380.6 234.9h0M356.3 245.1h0M390.4 218.2h0M396.1 214.5h0M339.1 218.0h0M387.0 211.5h0M364.3 261.2h0M353.7 244.2h0M371.9 258.5h0M336.1 215.0h0M341.7 246.4h0M359.6 254.5h0M372.6 219.5h0M371.4 224.5h0M395.6 214.9h0M391.3 224.8h0M387.8 214.8h0M364.1 262.8h0M358.8 207.9h0M351.1 243.2h0M340.2 237.7h0M384.2 232.9h0M380.4 230.9h0M390.0 212.6h0M396.6 213.1h0M365.2 263.8h0M353.5 236.5h0M385.0 226.2h0M398.9 234.8h0M370.9 256.1h0M339.7 237.4h0M351.0 214.1h0M377.2 257.8h0M396.5 219.2h0M374.2 207.9h0M363.4 262.1h0M368.4 260.8h0M355.5 208.9h0M349.6 232.1h0M351.2 249.1h0M358.6 251.7h0M371.3 210.0h0M370.7 211.5h0M372.7 251.7h0M334.3 232.8h0M339.5 235.8h0M345.4 243.5h0M358.6 239.5h0M378.8 227.7h0M344.0 215.5h0M362.9 260.6h0M382.3 254.9h0M342.8 233.9h0M393.6 211.5h0M341.6 237.1h0M343.7 233.1h0M368.8 237.1h0M345.5 227.3h0M346.1 229.4h0M348.9 213.4h0M367.5 256.5h0M352.8 257.7h0M365.6 260.7h0M371.4 251.9h0M352.6 246.0h0M350.1 249.5h0M334.0 221.3h0M368.6 228.8h0M394.6 222.9h0M372.6 210.9h0M373.6 219.6h0M378.3 251.5h0M349.3 209.6h0M400.8 240.8h0M375.6 208.4h0M387.4 246.1h0M389.2 225.8h0M398.0 232.8h0M398.4 206.6h0M360.7 229.9h0M349.3 211.1h0M378.2 248.6h0M356.1 214.8h0M346.0 214.1h0M355.1 218.7h0M368.7 262.6h0M367.2 251.9h0M388.1 234.8h0M373.5 258.7h0M349.5 242.9h0M391.4 242.3h0M348.7 251.6h0M360.1 247.6h0M399.3 215.4h0M384.0 245.0h0M389.9 213.8h0M373.8 260.4h0M386.1 249.2h0M372.1 252.5h0M390.9 231.2h0M386.0 251.5h0M399.6 223.3h0M399.6 236.8h0M399.8 212.7h0M356.3 251.7h0M357.3 254.6h0M371.7 258.7h0M362.5 247.2h0M382.3 251.5h0M395.5 245.6h0M364.0 253.9h0M377.8 211.1h0M361.5 254.5h0M391.1 240.5h0M345.0 252.0h0M333.3 234.4h0M388.9 212.4h0M375.0 230.3h0M356.0 232.5h0M356.7 218.4h0M372.4 255.0h0M337.9 222.9h0M381.1 221.7h0M379.2 231.6h0M351.2 252.8h0M341.1 245.6h0M354.7 253.7h0M399.2 221.7h0M347.4 227.0h0M370.4 257.6h0M364.0 257.8h0M400.8 235.0h0M403.0 235.4h0M389.8 217.0h0M368.8 215.4h0M344.4 206.0h0M365.0 260.8h0M357.0 252.9h0M338.6 226.4h0M393.4 238.1h0M359.4 235.8h0M374.9 259.9h0M342.5 244.6h0M365.2 242.2h0M363.5 261.6h0M377.3 244.3h0M368.7 227.8h0M393.8 245.2h0M358.3 234.9h0M361.5 262.6h0M375.2 254.4h0M388.9 249.6h0M382.3 248.3h0M355.0 208.0h0M398.6 213.9h0M356.7 257.7h0M373.8 240.1h0M359.7 208.7h0M375.9 249.3h0M385.5 222.3h0M370.1 222.9h0M401.8 230.4h0M388.5 243.6h0M361.6 245.2h0M367.5 261.9h0M355.5 246.1h0M372.1 215.4h0M380.1 253.9h0M341.4 226.1h0M395.0 235.9h0M383.5 215.4h0M353.8 215.9h0M353.0 209.1h0M400.7 228.2h0M361.4 261.8h0M398.5 223.9h0M354.4 217.4h0M339.5 231.4h0M359.5 221.1h0M400.4 228.4h0M346.2 221.5h0M365.6 258.7h0M373.3 254.6h0M359.1 251.2h0M384.8 214.8h0M372.1 233.3h0M384.5 244.9h0M357.3 222.0h0M367.5 259.2h0M376.2 222.7h0M386.0 221.1h0M390.2 208.4h0M358.5 238.9h0M361.7 260.5h0M336.8 220.1h0M385.9 237.8h0M363.5 245.3h0M350.8 252.9h0M377.3 223.8h0M366.3 262.1h0M385.1 246.1h0M398.8 228.9h0M359.9 249.1h0M389.2 228.8h0M344.7 226.3h0M368.5 256.6h0M380.2 236.2h0M356.9 258.3h0M336.2 225.6h0M367.6 230.0h0M373.9 255.4h0M362.0 239.5h0M353.2 239.3h0M378.9 255.0h0M354.1 254.6h0M384.6 244.9h0M396.7 235.0h0M373.8 258.1h0M374.2 253.6h0M355.6 257.0h0M380.5 246.8h0M353.9 241.5h0M374.4 209.9h0M358.5 253.8h0M347.7 218.4h0M379.4 211.4h0M367.3 262.5h0M381.4 226.9h0M390.9 210.2h0M331.8 224.9h0M345.4 242.5h0M336.0 222.0h0M371.6 231.9h0M347.6 252.8h0M351.9 254.0h0M375.9 219.0h0M355.1 225.7h0M349.3 239.0h0M354.5 252.0h0M380.0 254.7h0M335.5 237.2h0M345.1 251.1h0M362.7 235.3h0M376.3 209.7h0M373.3 248.0h0M368.2 229.2h0M350.2 240.1h0M384.3 256.3h0M388.7 252.6h0M401.6 225.1h0M381.4 245.6h0M356.4 232.4h0M360.1 217.0h0M345.4 222.4h0M369.3 248.7h0M345.9 231.4h0M351.1 246.8h0M371.2 221.4h0M396.3 246.7h0M392.1 249.4h0M372.0 259.4h0M344.0 247.7h0M333.0 217.9h0M375.3 256.1h0M353.5 242.6h0M343.1 226.6h0M400.7 242.7h0M334.8 223.7h0M356.8 216.2h0M375.5 258.1h0M339.2 232.4h0M342.9 212.2h0M366.8 251.1h0M366.0 263.5h0M367.0 252.1h0M352.3 253.7h0M371.5 212.3h0M347.4 235.5h0M333.4 220.6h0M372.4 258.7h0M373.8 260.8h0M384.3 231.3h0M389.6 228.3h0M353.6 254.8h0M347.2 206.7h0M360.4 240.0h0M390.6 206.5h0M366.4 251.6h0M394.6 208.5h0M338.3 237.0h0M375.9 224.8h0M366.7 257.3h0M349.9 243.1h0M395.3 220.1h0M338.8 228.2h0M343.6 240.3h0M377.8 240.0h0M365.2 247.0h0M382.9 209.9h0M379.7 229.2h0M353.8 247.4h0M381.2 243.7h0M342.2 233.4h0M369.4 258.7h0M348.8 209.6h0M363.5 263.2h0M387.9 228.8h0M373.5 253.8h0M343.7 249.0h0M400.4 211.4h0M347.2 252.6h0M349.0 208.8h0M360.5 260.0h0M395.4 245.0h0M395.9 243.0h0M342.6 221.3h0M385.4 207.1h0M400.2 212.0h0M350.7 247.2h0M353.0 252.8h0M340.1 235.7h0M386.7 251.6h0M354.5 259.1h0M369.8 255.4h0M368.0 253.6h0M375.0 242.0h0M348.8 252.4h0M370.4 209.1h0M359.7 222.9h0M384.6 206.4h0M390.5 207.4h0M366.2 253.1h0M377.5 213.1h0M400.3 212.4h0M358.1 237.7h0M383.2 211.5h0M380.8 255.3h0M357.8 211.9h0M385.6 223.6h0M374.4 214.6h0M366.7 262.8h0M337.3 206.4h0M380.5 212.6h0M370.0 240.7h0M361.1 232.4h0M378.5 241.4h0M372.5 259.2h0M387.1 252.2h0M376.4 254.6h0M380.0 207.8h0M365.1 255.3h0M357.1 256.9h0M364.8 260.7h0M354.4 247.0h0M356.3 223.4h0M338.3 224.8h0M402.2 231.7h0M396.5 243.9h0M385.6 250.2h0M365.1 263.7h0M349.4 221.9h0M333.0 229.9h0M393.9 219.4h0M362.6 259.4h0M382.1 250.7h0M375.9 257.6h0M340.6 236.9h0M360.2 253.9h0M360.2 242.4h0M400.8 237.2h0M369.1 215.3h0M371.4 243.7h0M364.3 260.4h0M371.6 259.0h0M360.8 262.1h0M352.1 218.3h0M354.0 258.6h0M382.1 221.1h0M363.5 263.4h0M381.0 231.4h0M383.4 246.1h0M355.2 249.7h0M333.8 220.9h0M351.5 246.1h0M399.5 221.1h0M374.8 243.3h0M375.2 244.1h0M357.2 246.3h0M336.8 209.7h0M357.6 206.8h0M340.0 214.2h0M401.8 234.6h0M355.2 245.9h0M352.0 250.6h0M353.3 211.8h0M381.0 229.7h0M384.0 231.8h0M397.4 211.5h0M390.8 225.9h0M390.4 207.8h0M391.7 219.1h0M375.7 252.6h0M332.5 222.1h0M394.9 217.0h0M378.0 215.2h0M379.4 240.0h0M342.2 216.5h0M400.9 211.6h0M378.1 228.2h0M349.7 239.0h0M333.1 209.8h0M354.0 255.4h0M363.5 261.9h0M348.4 247.9h0M356.3 251.7h0M368.8 227.2h0M349.5 212.5h0M358.2 252.2h0M386.1 228.1h0M345.6 219.0h0M358.8 218.7h0M377.2 227.2h0M394.4 233.4h0M378.7 208.9h0M357.3 254.5h0M345.4 247.3h0M348.2 216.1h0M340.2 231.5h0M357.4 209.9h0M399.2 233.2h0M338.9 238.2h0M383.9 218.9h0M393.8 238.6h0M369.3 261.8h0M398.1 212.4h0M349.9 236.4h0M392.2 215.9h0M337.9 218.3h0M396.8 221.4h0M384.4 232.7h0M346.2 224.4h0M360.2 244.5h0M400.8 212.9h0M345.0 233.9h0M378.1 206.6h0M334.4 235.9h0M385.1 233.3h0M349.7 237.2h0M375.6 234.9h0M346.3 243.8h0M388.1 252.6h0M387.7 248.9h0M395.9 227.3h0M347.9 216.5h0M395.4 240.7h0M347.3 210.8h0M345.5 214.1h0M372.8 249.4h0M364.2 260.5h0M339.2 245.4h0M361.4 261.0h0M368.8 233.7h0M365.5 261.0h0M365.0 263.5h0M390.1 218.6h0M401.6 217.7h0M348.1 232.5h0M363.0 261.8h0M356.1 229.6h0M339.3 244.8h0M342.9 227.7h0M347.4 254.0h0M352.7 241.2h0M372.2 232.3h0M347.9 247.3h0M340.4 219.9h0M360.9 261.7h0M368.5 214.0h0M394.7 239.7h0M348.5 209.3h0M372.9 215.7h0M361.2 232.2h0M372.0 257.5h0M383.8 255.9h0M398.1 221.6h0M335.2 229.6h0M356.9 259.1h0M352.5 207.0h0M399.9 222.8h0M364.8 256.5h0M392.8 236.7h0M374.8 252.8h0M340.9 235.7h0M378.0 220.1h0M388.8 240.0h0M380.0 258.1h0M337.5 217.2h0M369.0 258.1h0M380.2 216.5h0M348.5 220.8h0M368.8 227.2h0M342.8 245.3h0M375.1 249.0h0M380.2 233.4h0M345.7 252.4h0M380.7 233.6h0M377.1 247.1h0M398.7 216.5h0M355.4 251.6h0M400.4 231.0h0M360.6 218.0h0M369.9 261.8h0M383.3 219.5h0M378.8 226.9h0M349.4 250.5h0M347.0 218.9h0M334.3 221.4h0M360.5 213.9h0M337.2 230.4h0M398.4 239.8h0M358.8 239.5h0M365.0 246.9h0M379.7 207.0h0M357.9 215.3h0M368.2 261.8h0M373.5 254.5h0M382.1 242.8h0M361.8 262.0h0M358.1 250.4h0M389.5 220.8h0M391.9 240.9h0M370.3 256.8h0M333.2 217.5h0M384.1 237.0h0M336.7 221.8h0M344.3 206.3h0M339.5 246.4h0M350.5 219.3h0M396.5 247.2h0M340.1 207.1h0M375.5 260.2h0M355.5 214.6h0M355.5 236.3h0M335.7 221.0h0M343.5 210.9h0M375.8 211.3h0M354.8 246.4h0M378.8 251.9h0M396.6 216.9h0M337.7 238.5h0M380.3 214.9h0M382.8 228.3h0M387.7 219.3h0M349.7 252.5h0M347.8 240.0h0M386.1 247.1h0M355.5 251.9h0M378.5 211.4h0M343.7 238.8h0M372.6 217.2h0M376.4 212.3h0M350.0 220.0h0M369.9 230.6h0M342.4 248.0h0M353.0 248.0h0M376.9 222.9h0M375.6 246.1h0M358.9 258.3h0M378.6 224.0h0M342.9 221.1h0M385.8 219.1h0M376.8 254.0h0M369.0 261.6h0M354.0 224.0h0M343.7 247.8h0M341.6 241.3h0M397.0 214.8h0M366.1 256.9h0M340.5 217.5h0M369.7 235.4h0M382.6 227.0h0M387.6 236.7h0M337.0 212.2h0M378.8 220.7h0M354.2 218.9h0M383.2 233.7h0M361.8 250.7h0M398.4 231.9h0M368.6 260.2h0M354.6 242.9h0M401.1 208.2h0M357.2 258.8h0M376.4 233.0h0M336.5 223.4h0M382.6 249.5h0M337.9 231.4h0M338.2 228.8h0M360.0 261.9h0M385.9 222.7h0M339.6 213.8h0M343.6 210.1h0M391.6 236.8h0M344.2 215.8h0M364.5 250.4h0M340.3 225.6h0M399.9 220.1h0M350.3 212.8h0M389.5 249.0h0M366.2 258.4h0M366.7 261.5h0M381.8 247.5h0M345.7 213.5h0M360.2 261.6h0M361.0 253.2h0M349.8 220.4h0M403.1 233.2h0M391.6 214.6h0M343.8 224.6h0M360.0 249.2h0M361.2 216.9h0M383.2 253.7h0M335.3 239.3h0M373.7 250.3h0M379.6 258.2h0M391.8 225.0h0M358.0 253.5h0M358.2 227.2h0M358.4 226.5h0M348.0 212.4h0M364.5 258.8h0M393.9 242.9h0M355.0 249.8h0M374.0 259.3h0M365.4 263.5h0M384.7 249.8h0M377.9 220.7h0M391.5 228.1h0M369.7 213.7h0M389.9 225.5h0M391.6 226.0h0M382.1 255.2h0M397.5 214.1h0M377.9 249.2h0M340.2 243.8h0M369.0 256.5h0M356.2 232.4h0M381.8 251.4h0M357.8 256.5h0M349.2 225.7h0M355.0 211.8h0M388.2 207.5h0M337.0 219.2h0M384.1 209.9h0M389.0 229.3h0M362.7 261.3h0M394.4 242.7h0M396.6 233.3h0M358.2 248.6h0M369.8 256.7h0M373.2 212.1h0M368.7 254.1h0M362.0 234.1h0M372.5 257.1h0M357.3 218.1h0M399.9 227.1h0M346.6 246.4h0M355.2 259.0h0M364.6 247.6h0M368.8 211.4h0M380.2 253.6h0M347.3 226.7h0M384.5 249.2h0M393.6 218.7h0M364.4 263.6h0M382.2 228.1h0M360.0 259.9h0M354.9 223.5h0M351.4 248.5h0M368.4 237.7h0M346.8 244.8h0M372.0 261.5h0M388.7 238.5h0M395.3 216.6h0M386.3 238.0h0M362.8 256.4h0M359.9 259.6h0M378.2 258.1h0M365.5 261.4h0M367.5 260.1h0M376.1 214.3h0M364.6 252.6h0M352.7 240.9h0M361.4 222.0h0M365.9 235.8h0M332.5 211.4h0M382.5 225.7h0M354.5 249.4h0M368.1 220.8h0M374.0 216.2h0M358.9 258.4h0M383.5 240.0h0M379.6 249.5h0M355.6 247.2h0M384.6 254.6h0M398.4 209.0h0M338.0 231.7h0M388.0 210.0h0M347.0 245.3h0M377.7 232.7h0M364.4 263.9h0M355.3 250.5h0M343.3 217.5h0M375.9 229.8h0M343.1 223.6h0M338.0 218.7h0M354.1 217.2h0M345.5 235.3h0M364.8 262.4h0M365.3 260.8h0M373.2 217.5h0M343.9 214.4h0M381.3 210.3h0M364.0 262.1h0M361.8 226.5h0M380.7 226.4h0M342.3 228.7h0M370.0 256.1h0M392.0 206.4h0M360.5 248.3h0M396.1 242.5h0M362.5 229.3h0M370.9 223.3h0M383.7 244.4h0M360.1 261.1h0M392.3 227.2h0M372.3 251.9h0M359.1 245.3h0M366.6 260.8h0M344.6 229.3h0M394.8 212.7h0M346.5 252.4h0M358.3 234.8h0M362.8 257.9h0M398.4 236.9h0M367.4 243.1h0M359.0 225.3h0M387.6 241.3h0M357.9 221.1h0M357.4 228.5h0M367.8 259.0h0M355.2 222.0h0M353.6 253.6h0M340.3 246.0h0M336.3 217.2h0M352.3 252.7h0M336.0 219.2h0M383.4 221.3h0M391.6 247.8h0M366.5 260.9h0M357.0 259.5h0M365.0 259.7h0M384.1 217.2h0M363.5 255.8h0M393.2 211.4h0M373.4 249.7h0M361.4 262.7h0M340.8 209.2h0M382.0 207.3h0M343.7 242.5h0M344.8 215.4h0M380.1 241.3h0M363.6 262.2h0M364.4 262.8h0M349.6 228.7h0M400.1 219.5h0M365.0 263.7h0M344.7 216.2h0M356.6 214.8h0M344.6 248.8h0M381.0 236.8h0M371.7 251.9h0M395.1 232.2h0M357.9 240.9h0M399.1 229.0h0M382.4 255.8h0M343.9 238.5h0M358.8 216.2h0M339.3 246.1h0M381.0 252.5h0M333.1 235.9h0M364.1 252.3h0M373.2 244.8h0M363.5 248.2h0M370.9 261.7h0M368.9 259.9h0M358.3 224.3h0M395.4 221.6h0M381.6 251.9h0M388.6 253.6h0M357.9 245.9h0M356.0 249.9h0M346.2 241.4h0M367.2 255.7h0M396.7 222.0h0M397.3 210.8h0M350.1 249.9h0M372.1 250.1h0M369.2 258.6h0M398.6 230.8h0M386.5 211.1h0M351.5 212.0h0M393.0 212.6h0M383.9 231.6h0M383.1 220.9h0M343.2 243.6h0M384.0 234.6h0M377.6 218.4h0M357.9 222.1h0M377.3 259.4h0M364.5 263.9h0M389.5 239.2h0M366.1 250.0h0M364.1 256.1h0M365.2 261.1h0M384.4 212.9h0M379.5 214.4h0M401.5 209.1h0M385.1 237.4h0M376.5 213.6h0M349.2 227.8h0M347.8 253.3h0M338.3 233.7h0M382.3 255.4h0M383.6 233.2h0M359.9 248.3h0M359.9 260.1h0M388.9 213.9h0M345.1 213.0h0M356.4 235.0h0M396.8 215.5h0M388.4 233.5h0M395.9 220.5h0M395.2 218.8h0M399.8 241.5h0M374.8 250.7h0M393.2 236.9h0M338.8 231.7h0M374.5 259.0h0M383.6 245.6h0M387.3 253.7h0M358.8 259.5h0M372.1 245.7h0M343.5 229.5h0M351.4 234.6h0M371.0 227.3h0M372.9 250.2h0M393.8 215.4h0M400.0 227.3h0M362.6 262.9h0M400.1 239.8h0M370.6 228.3h0M333.6 224.2h0M340.7 217.9h0M376.1 222.5h0M399.2 238.7h0M360.5 245.8h0M367.7 261.1h0M393.6 237.5h0M360.3 244.9h0M355.5 241.1h0M362.5 262.2h0M361.2 262.4h0M371.1 206.6h0M390.6 212.9h0M380.3 244.8h0M377.3 259.7h0M381.8 245.3h0M335.5 206.1h0M401.2 230.7h0M371.9 224.2h0M369.4 258.3h0M347.6 253.8h0M344.6 217.8h0M351.8 254.3h0M361.5 260.1h0M367.8 257.1h0M400.2 224.8h0M381.5 229.5h0M390.4 209.9h0M362.4 262.9h0M356.2 249.3h0M357.5 214.6h0M397.5 244.4h0M365.7 263.6h0M378.8 242.2h0M382.6 215.3h0M358.7 238.0h0M360.2 258.2h0M343.2 214.2h0M373.1 214.7h0M352.6 252.5h0M373.4 235.2h0M362.5 238.5h0M334.7 237.5h0M384.9 219.7h0M389.6 220.0h0M338.4 220.0h0M359.8 233.7h0M385.9 225.5h0M378.8 218.9h0M366.0 254.4h0M398.5 235.2h0M347.5 241.0h0M337.9 210.0h0M337.8 225.2h0M364.1 243.6h0M367.9 223.9h0M361.2 260.3h0M353.4 215.0h0M396.2 224.8h0M364.6 247.0h0M335.3 215.6h0M391.3 213.1h0M347.0 243.6h0M340.0 242.3h0M356.4 235.4h0M384.0 211.9h0M369.2 247.6h0M378.7 215.7h0M379.1 231.1h0M395.3 211.3h0M347.8 206.2h0M345.7 229.1h0M380.2 211.1h0M364.2 263.6h0M379.0 221.4h0M360.0 218.9h0M364.6 245.9h0M337.1 215.0h0M402.5 237.5h0M357.1 259.4h0M367.3 235.1h0M378.6 217.3h0M390.2 234.7h0M397.6 222.9h0M366.8 253.2h0M380.0 213.4h0M373.3 246.5h0M361.4 262.6h0M385.7 247.5h0M354.6 212.5h0M373.0 209.1h0M360.1 247.9h0M360.9 246.3h0M355.9 247.3h0M364.4 262.7h0M338.5 206.2h0M388.8 248.1h0M346.6 242.9h0M374.6 256.6h0M358.7 212.7h0M338.3 244.9h0M357.0 208.5h0M383.6 256.7h0M396.1 224.5h0M385.6 251.6h0M400.1 240.1h0M397.7 243.4h0M347.7 238.8h0M367.0 236.1h0M358.1 225.6h0M374.4 235.6h0M351.4 218.9h0M368.4 235.2h0M379.2 230.3h0M369.1 216.8h0M386.0 222.0h0M385.0 246.8h0M350.4 236.0h0M366.8 259.7h0M352.1 227.8h0M382.3 229.3h0M367.2 253.5h0M352.8 248.4h0M357.5 232.2h0M357.1 223.8h0M380.5 249.8h0M348.4 218.0h0M375.6 251.5h0M377.1 245.2h0M355.3 246.2h0M357.4 209.5h0M399.8 207.9h0M380.2 236.4h0M368.2 262.1h0M355.5 219.3h0M387.7 212.3h0M367.8 248.8h0M350.7 227.4h0M383.2 234.3h0M377.1 257.9h0M365.4 256.3h0M354.1 230.4h0M362.3 262.5h0M351.7 215.2h0M374.9 259.5h0M392.1 225.2h0M365.0 257.7h0M385.8 217.2h0M339.9 227.7h0M365.3 258.4h0M374.1 229.1h0M333.3 220.8h0M358.6 228.6h0M358.3 206.6h0M359.7 250.2h0M376.4 245.4h0M333.6 216.9h0M375.7 245.1h0M345.8 223.0h0M382.5 255.6h0M372.9 219.5h0M356.5 239.3h0M355.0 208.1h0M375.5 243.4h0M341.2 235.6h0M353.8 218.3h0M357.6 230.2h0M356.5 258.3h0M363.5 263.2h0M358.4 255.7h0M360.4 240.1h0M388.1 208.2h0M357.9 253.0h0M367.2 251.0h0M362.8 263.2h0M347.6 228.1h0M386.9 242.2h0M369.7 254.8h0M388.7 228.5h0M350.3 212.1h0M365.2 249.7h0M363.6 263.6h0M347.2 232.8h0M338.6 206.1h0M357.9 211.3h0M368.1 231.1h0M381.3 222.8h0M402.4 235.9h0M358.8 234.6h0M357.3 255.9h0M362.8 256.9h0M375.2 225.5h0M353.7 238.7h0M399.0 210.9h0M339.5 227.4h0M371.0 244.1h0M354.9 225.0h0M361.6 255.0h0M400.2 230.2h0M360.1 226.9h0M378.2 215.4h0M365.6 244.6h0M348.2 229.5h0M366.1 251.8h0M362.8 254.3h0M342.8 248.5h0M399.0 218.7h0M379.4 245.6h0M366.1 234.8h0M344.2 217.5h0M381.4 243.4h0M377.1 221.0h0M374.9 213.9h0M370.6 224.2h0M344.8 241.8h0M379.7 223.9h0M376.5 237.7h0M371.7 251.2h0M370.6 254.1h0M361.2 249.7h0M401.4 232.0h0M374.4 253.7h0M374.9 212.2h0M397.8 207.9h0M366.9 262.4h0M391.3 221.5h0M389.6 216.3h0M334.0 236.2h0M365.4 257.6h0M375.6 254.2h0M393.7 236.9h0M394.6 217.8h0M333.3 225.7h0M336.2 225.5h0M375.9 210.2h0M343.3 213.0h0M351.4 223.0h0M376.4 259.4h0M383.9 256.5h0M388.9 231.5h0M397.0 222.3h0M378.2 253.0h0M338.4 219.2h0M367.7 259.7h0M392.6 241.5h0M380.9 214.3h0M388.3 232.9h0M346.0 232.4h0M362.4 261.5h0M386.1 249.2h0M380.6 220.4h0M347.5 229.0h0M398.5 218.6h0M367.8 227.4h0M334.1 235.1h0M381.2 249.7h0M362.7 256.8h0M356.3 218.2h0M377.1 248.5h0M369.1 229.6h0M396.1 214.9h0M368.4 233.4h0M353.8 251.6h0M360.4 247.9h0M350.3 253.1h0M376.5 222.0h0M359.1 234.0h0M349.5 239.6h0M331.9 231.4h0M356.8 252.3h0M370.0 254.2h0M377.1 240.9h0M386.4 213.3h0M392.6 222.9h0M376.6 251.6h0M365.2 253.3h0M396.7 245.1h0M339.2 217.0h0M368.1 229.9h0M347.6 214.6h0M363.7 256.3h0M344.9 214.6h0M347.6 239.5h0M370.6 233.6h0M367.9 231.5h0M348.7 254.5h0M360.0 259.9h0M386.1 208.2h0M371.1 239.1h0M386.5 218.6h0M383.1 223.8h0M372.0 219.2h0M360.7 243.6h0M336.7 233.8h0M381.2 243.3h0M370.5 214.9h0M346.7 248.5h0M382.4 254.7h0M349.5 208.9h0M349.8 210.9h0M352.9 220.5h0M358.6 232.8h0M378.7 251.7h0M347.7 212.6h0M355.3 206.5h0M380.8 212.3h0M392.3 251.3h0M334.7 218.1h0M363.8 249.9h0M364.1 260.0h0M336.8 224.1h0M365.9 261.0h0M385.0 250.6h0M344.8 233.6h0M395.4 229.6h0M378.9 229.6h0M365.8 238.5h0M351.2 239.3h0M393.5 238.3h0M358.0 210.6h0M382.4 257.1h0M376.3 206.8h0M391.1 242.7h0M341.4 233.3h0M382.1 223.4h0M352.2 248.2h0M379.0 243.3h0M338.7 244.2h0M355.1 231.6h0M357.8 240.6h0M378.9 213.4h0M387.5 222.6h0M370.3 223.7h0M351.0 252.9h0M344.8 248.4h0M357.0 260.3h0M361.2 248.0h0M359.6 216.4h0M362.0 235.1h0M368.6 213.1h0M400.1 223.4h0M399.6 219.2h0M377.4 224.7h0M363.6 254.3h0M356.8 249.8h0M335.1 212.4h0M394.5 232.0h0M356.8 250.2h0M399.0 230.7h0M359.6 258.0h0M362.7 238.5h0M361.9 259.1h0M382.7 240.0h0M397.0 209.7h0M353.2 212.3h0M341.4 247.5h0M340.4 227.8h0M333.1 233.5h0M347.6 214.8h0M338.5 210.7h0M368.1 217.3h0M389.4 213.9h0M349.6 230.2h0M390.7 220.0h0M384.3 208.7h0M398.2 211.7h0M374.4 229.7h0M353.6 256.1h0M380.8 209.7h0M383.5 240.1h0M373.0 222.3h0M351.1 223.3h0M342.3 243.3h0M367.9 252.5h0M340.0 219.3h0M368.4 235.5h0M361.5 247.7h0M395.6 229.9h0M400.8 221.9h0M381.4 257.8h0M361.7 260.7h0M372.8 253.2h0M401.4 217.8h0M388.8 243.6h0M339.5 238.4h0M356.2 256.1h0M375.1 221.0h0M345.6 247.4h0M344.1 244.3h0M378.6 233.6h0M341.4 245.9h0M398.7 217.1h0M361.9 228.7h0M381.2 227.7h0M376.5 248.9h0M372.3 229.3h0M346.0 235.9h0M372.8 261.1h0M392.4 251.1h0M392.2 233.0h0M383.9 220.0h0M393.5 247.5h0M383.1 254.3h0M387.2 221.5h0M354.4 233.6h0M388.5 227.4h0M381.2 254.9h0M348.5 244.8h0M371.7 215.0h0M355.5 218.3h0M342.9 211.9h0M353.0 247.6h0M361.3 255.2h0M360.3 255.2h0M359.6 221.5h0M332.2 228.0h0M363.2 256.0h0M399.9 206.0h0M349.7 219.2h0M339.1 207.4h0M373.3 247.2h0M350.0 235.2h0M400.2 222.6h0M402.2 227.6h0M355.8 257.4h0M349.7 255.2h0M386.3 247.2h0M371.7 246.3h0M353.0 253.1h0M352.0 237.3h0M345.2 229.2h0M372.9 247.1h0M374.5 251.2h0M396.8 240.8h0M370.9 253.1h0M397.5 224.9h0M338.7 227.5h0M381.8 225.3h0M369.3 260.0h0M396.4 244.4h0M365.5 251.1h0M386.4 232.8h0M339.4 224.4h0M389.0 241.9h0M379.8 220.4h0M356.2 257.8h0M399.0 225.4h0M364.5 263.8h0M374.3 252.0h0M399.6 216.1h0M337.5 216.1h0M333.1 232.2h0M361.6 233.9h0M364.2 261.4h0M378.2 255.3h0M351.0 240.0h0M377.7 228.9h0M355.5 235.3h0M401.6 241.2h0M355.5 217.7h0M338.7 206.7h0M375.7 254.5h0M368.6 262.0h0M374.0 240.0h0M359.1 206.7h0M375.4 221.2h0M370.2 209.8h0M338.8 229.5h0M385.0 248.4h0M343.1 240.7h0M393.4 240.8h0M365.8 263.2h0M393.9 208.7h0M355.0 244.6h0M374.5 259.4h0M359.8 257.9h0M360.3 239.5h0M385.5 223.2h0M357.7 241.8h0M398.1 237.5h0M396.7 238.9h0M402.1 238.8h0M384.1 238.0h0M366.2 262.2h0M377.6 233.7h0M382.6 236.9h0M357.8 260.9h0M393.8 224.6h0M387.6 209.5h0M377.7 207.8h0M356.1 252.4h0M347.5 228.1h0M370.3 246.9h0M357.2 241.1h0M399.2 240.0h0M390.3 251.2h0M368.1 220.3h0M356.2 228.4h0M353.4 252.6h0M387.3 238.4h0M356.7 260.3h0M359.6 260.3h0M363.8 254.8h0M398.0 237.8h0M355.2 209.7h0M341.5 215.0h0M381.2 223.6h0M343.0 239.7h0M368.4 252.5h0M389.3 214.3h0M356.0 253.6h0M371.7 260.5h0M332.1 219.3h0M378.6 256.3h0M385.7 211.7h0M374.9 250.8h0M387.4 254.3h0M390.8 225.0h0M362.3 259.4h0M379.9 245.6h0M370.3 255.2h0M349.5 222.0h0M343.0 237.5h0M381.4 255.9h0M380.7 220.1h0M345.6 245.0h0M381.2 251.1h0M338.6 223.8h0M386.1 222.3h0M390.5 233.1h0M339.6 215.3h0M394.2 226.2h0M337.3 215.4h0M347.0 249.7h0M343.0 244.7h0M378.4 220.3h0M364.4 256.7h0M334.1 232.1h0M348.7 225.8h0M378.3 251.7h0M369.7 251.5h0M346.9 246.6h0M352.3 228.3h0M383.9 222.4h0M354.7 218.4h0M392.7 222.4h0M367.7 243.0h0M397.4 228.0h0M365.1 260.5h0M393.2 238.9h0M350.0 220.9h0M350.9 250.6h0M402.8 231.1h0M359.5 233.9h0M383.2 254.7h0M340.2 227.8h0M384.4 242.9h0M370.3 259.5h0M368.1 223.8h0M397.4 233.2h0M378.3 258.5h0M401.3 233.7h0M396.3 214.1h0M392.9 243.1h0M402.6 230.0h0M391.8 207.5h0M362.6 253.5h0M356.2 254.1h0M366.7 249.6h0M345.6 229.8h0M378.6 252.4h0M400.6 211.2h0M358.2 218.8h0M372.9 230.1h0M380.3 257.6h0M360.2 242.7h0M336.9 212.2h0M374.1 236.1h0M402.3 231.9h0M356.7 230.0h0M343.9 230.3h0M367.7 260.5h0M363.2 237.5h0M354.0 220.5h0M365.2 262.8h0M335.9 218.0h0M356.2 215.2h0M387.0 251.4h0M386.5 219.7h0M370.3 231.6h0M336.2 236.9h0M378.9 209.8h0M361.6 246.0h0M374.4 259.3h0M336.4 223.5h0M379.1 238.1h0M335.1 219.0h0M334.6 234.3h0M375.3 248.7h0M345.0 219.5h0M388.8 216.5h0M383.2 232.3h0M389.0 226.2h0M378.9 240.6h0M371.7 228.8h0M399.7 217.1h0M370.9 245.0h0M343.1 243.0h0M347.9 225.4h0M349.0 254.9h0M394.1 231.8h0M378.7 251.4h0M348.1 223.5h0M357.0 246.9h0M360.2 247.9h0M372.1 250.1h0M388.9 253.3h0M402.0 228.0h0M394.0 206.6h0M370.5 207.7h0M386.6 228.5h0M346.4 224.3h0M370.6 251.5h0M367.8 249.8h0M386.3 208.1h0M350.3 206.0h0M385.4 244.6h0M365.2 242.9h0M377.7 248.5h0M369.3 217.9h0M383.9 240.7h0M353.7 217.5h0M338.3 225.9h0M383.5 226.2h0M346.4 239.5h0M347.5 248.4h0M349.9 249.6h0M349.7 211.6h0M351.9 235.9h0M380.8 257.3h0M384.6 222.4h0M372.3 246.3h0M398.5 220.8h0M358.8 261.5h0M354.4 225.1h0M353.6 258.1h0M360.2 254.5h0M395.5 206.8h0M346.7 221.8h0M357.8 212.8h0M344.7 212.9h0M372.4 220.5h0M353.7 231.9h0M387.6 236.5h0M359.8 248.0h0M373.8 259.2h0M366.8 238.6h0M341.1 225.1h0M370.5 257.4h0M396.9 211.7h0M353.1 257.5h0M353.4 246.6h0M391.7 237.1h0M349.7 244.6h0M364.0 242.3h0M363.0 263.0h0M342.4 247.2h0M340.1 221.9h0M368.9 214.6h0M387.4 216.1h0M375.7 211.6h0M354.4 255.9h0M385.3 218.6h0M398.9 233.3h0M359.8 225.6h0M363.3 261.5h0M369.1 262.0h0M370.0 217.6h0M359.1 260.6h0M378.1 255.2h0M373.7 249.5h0M399.1 211.8h0M386.9 211.9h0M358.4 247.9h0M363.4 245.7h0M344.4 249.5h0M363.9 260.1h0M366.8 252.6h0M359.3 253.1h0M335.4 237.6h0M337.8 234.4h0M373.9 255.8h0M401.5 230.7h0M373.1 260.9h0M381.4 210.8h0M374.4 248.2h0M397.2 206.9h0M374.4 231.4h0M358.3 253.3h0M397.1 207.7h0M334.7 221.7h0M401.5 213.9h0M352.8 248.9h0M394.6 214.5h0M374.1 244.6h0M361.0 213.6h0M357.6 260.9h0M335.7 230.3h0M364.1 263.9h0M370.3 261.3h0M343.4 248.4h0M368.3 246.3h0M342.6 234.5h0M389.7 235.7h0M393.2 213.6h0M350.7 230.4h0M373.4 243.6h0M367.5 257.6h0M403.0 235.7h0M333.2 218.5h0M353.8 225.1h0M396.9 208.0h0M395.2 234.1h0M382.2 246.5h0M358.1 250.0h0M352.3 248.3h0M375.0 238.2h0M351.8 251.0h0M390.2 226.0h0M389.5 252.7h0M346.8 212.9h0M382.7 212.2h0M376.3 249.2h0M369.0 251.2h0M397.3 238.6h0M378.9 243.6h0M368.2 240.1h0M372.1 249.9h0M362.6 230.4h0M359.0 238.5h0M362.0 228.7h0M400.9 227.5h0M333.3 211.2h0M362.7 247.8h0M374.3 232.0h0M348.5 227.3h0M393.7 206.9h0M362.0 260.5h0M355.2 233.0h0M394.8 209.4h0M357.6 254.5h0M380.9 220.8h0M366.7 252.2h0M348.1 228.5h0M384.7 252.3h0M353.8 255.8h0M401.1 240.4h0M366.3 247.5h0M336.4 214.4h0M344.9 248.4h0M375.3 252.9h0M396.0 233.5h0M368.6 260.1h0M373.3 211.8h0M349.5 230.4h0M371.3 259.9h0M348.1 213.1h0M372.3 225.9h0M354.2 253.2h0M359.1 247.8h0M373.4 260.8h0M374.6 225.0h0M360.8 212.4h0M377.8 242.2h0M333.9 225.9h0M371.2 213.2h0M353.4 215.9h0M395.1 241.9h0M350.8 235.9h0M353.5 240.0h0M351.5 251.4h0M358.1 258.7h0M341.3 217.2h0M355.2 218.4h0M385.9 228.9h0M387.0 229.0h0M364.9 258.4h0M360.8 259.4h0M365.0 262.7h0M361.6 245.6h0M341.3 221.7h0M362.9 257.3h0M366.4 246.5h0M347.6 236.5h0M355.5 216.3h0M371.5 245.5h0M382.2 206.1h0M336.6 231.1h0M346.7 221.1h0M370.0 253.7h0M349.2 225.0h0M351.5 222.9h0M387.8 226.1h0M377.5 251.7h0M371.9 257.3h0M335.2 212.6h0M350.1 215.5h0M390.9 236.6h0M363.9 240.0h0M400.6 220.0h0M360.1 249.7h0M401.1 208.7h0M391.3 220.9h0M377.7 212.8h0M394.9 226.7h0M338.8 223.2h0M388.1 217.5h0M365.8 262.8h0M355.6 245.5h0M337.9 221.8h0M362.4 263.1h0M358.9 241.5h0M361.1 260.0h0M375.9 215.5h0M369.7 244.1h0M392.8 216.4h0M344.3 212.4h0M367.9 220.0h0M371.8 233.6h0M390.3 248.2h0M335.0 233.2h0M348.3 254.2h0M341.7 224.4h0M387.4 240.9h0M352.7 213.5h0M374.7 255.4h0M380.1 212.3h0M363.8 252.1h0M378.0 215.0h0M341.1 224.5h0M360.1 215.6h0M359.0 213.4h0M372.0 238.0h0M388.9 229.4h0M355.2 211.1h0M373.6 260.1h0M373.0 259.4h0M388.4 237.1h0M342.5 239.2h0M338.7 220.8h0M361.6 256.8h0M370.1 229.6h0M381.5 211.9h0M381.8 252.1h0M361.5 257.1h0M385.2 214.4h0M361.1 246.2h0M342.4 225.9h0M366.3 254.2h0M361.0 253.1h0M368.0 224.6h0M388.8 249.2h0M380.9 226.5h0M393.3 229.4h0M371.2 250.1h0M350.9 227.0h0M376.4 257.3h0M337.6 223.7h0M399.1 217.3h0M389.1 208.3h0M372.1 236.7h0M362.1 237.3h0M340.2 238.3h0M357.2 259.4h0M379.0 214.0h0M388.7 243.2h0M394.3 246.2h0M332.8 209.0h0M386.4 219.7h0M369.1 214.9h0M351.0 250.7h0M396.5 236.6h0M363.0 249.4h0M352.0 233.8h0M368.6 261.7h0M356.9 245.5h0M367.8 248.4h0M361.8 252.3h0M373.1 257.1h0M372.2 232.1h0M369.3 252.7h0M359.1 261.7h0M373.1 258.0h0M393.1 234.4h0M355.7 214.6h0M387.0 247.4h0M402.5 227.6h0M339.9 243.6h0M337.5 213.1h0M356.4 239.1h0M395.8 210.5h0M370.2 254.6h0M353.9 231.8h0M358.5 241.0h0M368.4 262.6h0M386.6 248.1h0M340.8 210.4h0M340.5 226.0h0M402.4 230.5h0M386.2 254.4h0M347.5 218.9h0M351.3 207.4h0M369.2 209.3h0M379.3 223.4h0M375.1 238.5h0M383.6 223.4h0M381.6 246.0h0M334.6 222.6h0M376.2 233.0h0M391.8 216.8h0M378.6 257.0h0M367.5 253.3h0M351.0 216.2h0M394.7 248.8h0M332.6 212.5h0M356.3 226.5h0M342.8 240.7h0M361.6 254.9h0M362.4 258.7h0M344.1 223.7h0M366.0 262.0h0M349.8 253.9h0M384.6 237.5h0M367.0 263.1h0M358.2 212.0h0M364.5 263.9h0M362.0 261.5h0M398.7 207.5h0M371.2 221.3h0M372.7 226.9h0M375.1 260.2h0M359.5 256.9h0M347.6 253.6h0M399.3 230.2h0M357.6 220.8h0M350.8 239.7h0M377.4 247.1h0M396.5 211.5h0M381.0 210.1h0M341.7 226.2h0M402.0 210.5h0M366.2 252.4h0M389.9 252.1h0M367.2 259.7h0M368.3 221.9h0M366.2 262.9h0M390.1 244.8h0M371.6 229.7h0M356.4 255.2h0M350.6 255.8h0M373.5 237.1h0M396.3 214.5h0M345.0 231.5h0M374.0 229.9h0M331.9 230.9h0M382.0 211.4h0M350.0 213.6h0M384.1 252.8h0M357.1 257.1h0M385.3 206.3h0M359.7 240.7h0M373.1 219.8h0M363.0 262.9h0M380.8 210.4h0M347.7 212.2h0M402.5 231.5h0M354.0 224.8h0M343.7 233.6h0M381.7 229.3h0M388.1 224.8h0M339.2 216.7h0M365.8 242.4h0M357.1 259.3h0M377.4 249.3h0M340.5 227.5h0M385.8 241.5h0M375.4 245.8h0M345.0 230.6h0M371.4 232.9h0M381.1 258.0h0M356.6 238.3h0M376.0 218.9h0M354.8 248.8h0M398.5 246.0h0M398.7 228.7h0M378.5 231.3h0M357.3 256.3h0M401.6 226.0h0M353.6 209.8h0M385.5 233.6h0M396.8 242.6h0M338.0 244.8h0M334.7 210.1h0M333.6 231.0h0M377.6 236.5h0M391.6 217.7h0M400.4 230.0h0M375.7 226.8h0M351.9 237.4h0M344.0 251.2h0M354.4 220.5h0M367.3 257.2h0M353.1 208.1h0M389.1 241.4h0M386.6 212.3h0M369.0 228.7h0M366.0 263.4h0M372.5 259.2h0M347.8 246.6h0M390.6 208.0h0M376.9 245.0h0M350.5 224.1h0M367.5 259.4h0M356.1 207.1h0M336.3 226.2h0M367.6 262.7h0M346.6 253.3h0M339.6 230.2h0M385.7 248.1h0M381.9 251.8h0M333.1 213.0h0M391.1 211.4h0M368.6 254.1h0M391.9 219.6h0M354.8 213.0h0M401.5 206.1h0M386.9 230.1h0M371.7 252.5h0M365.9 263.2h0M376.6 259.8h0M384.7 210.8h0M354.7 219.1h0M401.9 225.8h0M401.7 213.4h0M382.6 234.8h0M387.1 236.2h0M360.9 225.5h0M379.2 249.2h0M361.4 257.5h0M376.7 255.2h0M362.3 239.2h0M339.6 238.9h0M353.9 211.6h0M335.5 213.2h0M381.7 247.6h0M349.5 241.7h0M386.8 247.9h0M350.9 241.9h0M361.3 238.7h0M342.3 221.6h0M372.1 256.2h0M359.6 260.1h0M353.3 209.4h0M367.1 237.3h0M368.9 258.8h0M374.4 243.0h0M361.8 251.5h0M401.3 206.0h0M350.7 252.0h0M347.7 212.5h0M345.6 244.2h0M350.3 206.4h0M346.0 228.2h0M350.4 206.1h0M354.6 220.1h0M357.4 230.0h0M332.9 224.8h0M377.3 254.6h0M332.4 234.6h0M394.9 219.5h0M346.6 232.5h0M384.5 253.6h0M342.2 238.6h0M375.4 224.5h0M376.8 245.1h0M360.8 242.0h0M333.2 210.0h0M382.3 254.6h0M355.6 258.5h0M351.7 250.6h0M345.7 226.1h0M378.9 255.9h0M363.1 254.3h0M361.5 260.3h0M380.3 239.3h0M358.7 219.6h0M387.8 211.8h0M341.6 216.7h0M376.9 222.1h0M370.5 243.0h0M376.9 255.5h0M369.3 218.2h0M349.0 215.8h0M337.5 214.5h0M394.7 226.3h0M342.8 244.1h0M373.3 218.7h0M335.0 236.7h0M371.7 211.4h0M340.8 240.9h0M355.3 250.8h0M370.6 240.2h0M398.9 225.7h0M361.8 228.9h0M392.0 237.3h0M365.8 263.3h0M383.5 237.2h0M398.5 243.0h0M367.3 262.3h0M371.7 218.6h0M348.3 231.5h0M354.6 251.3h0M368.0 247.2h0M382.4 230.8h0M395.8 248.0h0M364.7 263.9h0M378.9 221.3h0M399.7 234.7h0M357.5 231.9h0M354.9 236.9h0M344.1 210.1h0M356.8 231.8h0M370.3 235.0h0M340.9 228.5h0M371.5 207.1h0M362.9 262.3h0M354.2 226.4h0M368.1 249.1h0M345.2 252.2h0M346.5 213.7h0M359.9 227.4h0M400.6 228.4h0M373.0 231.5h0M366.7 261.9h0M390.6 240.5h0M334.1 225.4h0M365.7 261.5h0M339.3 239.8h0M361.7 249.2h0M355.0 243.3h0M363.6 259.3h0M394.7 222.0h0M350.9 218.9h0M402.5 234.2h0M346.8 212.7h0M348.5 252.2h0M387.7 230.0h0M385.3 247.3h0M394.3 212.8h0M389.6 226.7h0M396.0 233.4h0M350.5 233.7h0M343.6 208.9h0M369.8 256.7h0M355.4 256.1h0M350.5 212.3h0M371.9 259.5h0M376.0 235.5h0M383.6 255.9h0M338.6 240.5h0M356.3 256.6h0M341.5 219.9h0M374.0 235.7h0M382.2 214.2h0M355.0 237.2h0M385.5 254.3h0M377.9 259.5h0M359.4 210.0h0M350.2 232.1h0M390.0 249.1h0M368.9 262.1h0M339.3 232.1h0M369.0 232.5h0M353.1 251.6h0M401.1 222.2h0M375.2 206.7h0M384.6 211.5h0M398.0 230.6h0M393.2 219.0h0M335.3 219.2h0M337.4 211.0h0M401.1 228.5h0M382.6 226.6h0M340.3 237.3h0M390.5 225.0h0M346.2 246.1h0M335.8 212.2h0M376.6 221.3h0M369.6 262.2h0M354.5 256.1h0M380.4 251.9h0M403.5 233.4h0M343.3 240.7h0M341.1 218.5h0M376.9 241.4h0M350.0 255.8h0M400.7 206.6h0M350.4 221.2h0M354.2 256.3h0M386.6 252.0h0M375.9 238.6h0M374.9 206.3h0M386.6 241.6h0M340.8 236.0h0M377.6 218.9h0M339.6 210.6h0M387.7 220.6h0M358.4 237.7h0M366.0 261.9h0M371.5 219.8h0M362.9 255.6h0M373.1 231.2h0M365.3 263.3h0M372.6 216.5h0M341.3 247.4h0M354.9 235.4h0M390.0 240.7h0M377.2 233.1h0M349.8 222.7h0M370.5 235.6h0M385.4 219.0h0M357.7 235.0h0M390.6 220.7h0M379.0 258.3h0M336.9 220.4h0M338.0 242.6h0M374.1 255.7h0M348.3 245.6h0M387.6 227.2h0M374.0 245.5h0M347.3 212.0h0M334.1 220.9h0M332.6 206.6h0M401.3 206.6h0M360.2 206.6h0M369.7 206.6h0M332.4 206.5h0M402.8 206.5h0M360.3 206.5h0M369.7 206.5h0M331.3 206.5h0M402.6 206.5h0M360.5 206.5h0M369.4 206.5h0M332.4 207.5h0M401.2 207.5h0M360.1 207.5h0M368.9 207.5h0M332.9 207.0h0M402.0 207.0h0M360.1 207.0h0M369.3 207.0h0M332.3 207.0h0M401.4 207.0h0M360.2 207.0h0M368.9 207.0h0M333.4 208.1h0M402.0 208.1h0M360.6 208.1h0M369.4 208.1h0M333.3 208.9h0M401.7 208.9h0M360.1 208.9h0M368.8 208.9h0M333.1 208.5h0M402.4 208.5h0M360.6 208.5h0M369.5 208.5h0M331.3 209.7h0M402.9 209.7h0M360.4 209.7h0M369.5 209.7h0M333.3 209.6h0M402.8 209.6h0M360.4 209.6h0M368.8 209.6h0M331.6 209.3h0M402.1 209.3h0M360.8 209.3h0M369.3 209.3h0M333.4 210.6h0M401.2 210.6h0M360.8 210.6h0M369.3 210.6h0M333.5 210.5h0M401.9 210.5h0M360.8 210.5h0M369.2 210.5h0M333.6 210.2h0M401.8 210.2h0M360.2 210.2h0M369.1 210.2h0M332.8 211.3h0M401.3 211.3h0M360.6 211.3h0M368.8 211.3h0M333.0 211.4h0M402.4 211.4h0M360.8 211.4h0M369.0 211.4h0M331.5 211.7h0M402.2 211.7h0M360.2 211.7h0M368.8 211.7h0M332.0 212.8h0M402.6 212.8h0M360.7 212.8h0M369.2 212.8h0M331.5 212.8h0M401.1 212.8h0M360.6 212.8h0M368.9 212.8h0M332.5 212.7h0M402.3 212.7h0M360.5 212.7h0M368.6 212.7h0M333.3 213.3h0M401.4 213.3h0M360.7 213.3h0M369.0 213.3h0M332.2 213.5h0M401.4 213.5h0M361.1 213.5h0M368.7 213.5h0M333.6 213.0h0M400.6 213.0h0M360.5 213.0h0M368.6 213.0h0M332.0 214.9h0M400.7 214.9h0M360.7 214.9h0M368.8 214.9h0M332.0 214.7h0M400.6 214.7h0M360.7 214.7h0M368.9 214.7h0M332.0 214.8h0M401.6 214.8h0M360.9 214.8h0M368.4 214.8h0M333.0 215.9h0M401.3 215.9h0M360.8 215.9h0M368.9 215.9h0M332.2 215.1h0M400.9 215.1h0M360.8 215.1h0M368.7 215.1h0M331.9 215.3h0M400.9 215.3h0M361.0 215.3h0M369.0 215.3h0M333.6 216.9h0M401.7 216.9h0M361.0 216.9h0M368.2 216.9h0M331.6 216.4h0M401.2 216.4h0M360.6 216.4h0M368.8 216.4h0M332.0 216.4h0M400.2 216.4h0M361.3 216.4h0M368.8 216.4h0M331.5 217.9h0M400.2 217.9h0M360.9 217.9h0M368.3 217.9h0M332.8 217.4h0M401.1 217.4h0M360.7 217.4h0M368.8 217.4h0M331.4 217.3h0M400.6 217.3h0M360.9 217.3h0M368.6 217.3h0M331.5 218.1h0M400.4 218.1h0M361.2 218.1h0M368.4 218.1h0M331.7 219.0h0M401.1 219.0h0M361.5 219.0h0M368.4 219.0h0M331.6 218.7h0M400.8 218.7h0M360.8 218.7h0M368.6 218.7h0M333.4 219.8h0M401.0 219.8h0M361.2 219.8h0M368.5 219.8h0M332.6 219.8h0M401.1 219.8h0M361.5 219.8h0M368.1 219.8h0M333.2 219.3h0M400.8 219.3h0M361.4 219.3h0M368.7 219.3h0M331.3 220.1h0M402.0 220.1h0M361.6 220.1h0M368.6 220.1h0M332.0 220.4h0M400.8 220.4h0M361.3 220.4h0M368.3 220.4h0M332.2 220.4h0M400.6 220.4h0M361.5 220.4h0M368.2 220.4h0M331.4 221.5h0M402.6 221.5h0M361.4 221.5h0M368.3 221.5h0M331.2 221.4h0M400.8 221.4h0M361.7 221.4h0M368.4 221.4h0M332.6 221.0h0M402.5 221.0h0M361.6 221.0h0M368.0 221.0h0M331.9 222.8h0M402.1 222.8h0M361.6 222.8h0M367.9 222.8h0M333.2 222.3h0M402.6 222.3h0M361.8 222.3h0M368.0 222.3h0M332.6 222.4h0M402.9 222.4h0M361.3 222.4h0M367.9 222.4h0M331.5 223.9h0M402.2 223.9h0M361.8 223.9h0M367.8 223.9h0M332.4 223.3h0M402.2 223.3h0M361.4 223.3h0M367.7 223.3h0M332.2 223.5h0M401.5 223.5h0M361.5 223.5h0M367.8 223.5h0M331.1 224.1h0M402.9 224.1h0M361.9 224.1h0M367.5 224.1h0M331.6 224.7h0M401.3 224.7h0M361.9 224.7h0M367.5 224.7h0M331.1 224.2h0M401.7 224.2h0M361.6 224.2h0M367.6 224.2h0M332.2 225.8h0M402.5 225.8h0M361.7 225.8h0M367.7 225.8h0M330.9 225.4h0M402.6 225.4h0M361.4 225.4h0M367.6 225.4h0M330.9 225.6h0M401.7 225.6h0M361.5 225.6h0M367.5 225.6h0M331.8 226.4h0M403.0 226.4h0M362.1 226.4h0M367.3 226.4h0M331.8 226.7h0M401.4 226.7h0M361.5 226.7h0M367.8 226.7h0M332.5 226.9h0M403.6 226.9h0M362.2 226.9h0M367.9 226.9h0M331.9 227.9h0M402.4 227.9h0M362.1 227.9h0M367.4 227.9h0M331.8 227.1h0M403.1 227.1h0M362.2 227.1h0M367.8 227.1h0M332.5 227.6h0M403.1 227.6h0M361.9 227.6h0M367.3 227.6h0M331.1 228.8h0M402.4 228.8h0M362.0 228.8h0M367.2 228.8h0M331.6 228.1h0M402.6 228.1h0M361.8 228.1h0M367.2 228.1h0M331.2 228.2h0M402.0 228.2h0M362.2 228.2h0M367.5 228.2h0M330.8 229.0h0M402.3 229.0h0M362.1 229.0h0M367.0 229.0h0M332.9 229.5h0M403.1 229.5h0M362.1 229.5h0M367.2 229.5h0M330.8 229.5h0M402.0 229.5h0M362.1 229.5h0M367.1 229.5h0M331.2 230.3h0M402.0 230.3h0M362.0 230.3h0M367.1 230.3h0M332.1 230.6h0M403.7 230.6h0M362.7 230.6h0M367.3 230.6h0M332.1 230.2h0M404.1 230.2h0M362.6 230.2h0M366.9 230.2h0M332.4 231.7h0M402.0 231.7h0M362.3 231.7h0M367.0 231.7h0M333.1 231.0h0M403.1 231.0h0M362.1 231.0h0M366.7 231.0h0M332.1 231.8h0M403.8 231.8h0M362.5 231.8h0M366.6 231.8h0M331.6 232.6h0M402.8 232.6h0M362.8 232.6h0M366.9 232.6h0M332.7 232.6h0M402.3 232.6h0M362.7 232.6h0M366.9 232.6h0M333.1 232.4h0M402.5 232.4h0M362.3 232.4h0M366.9 232.4h0M333.3 233.3h0M402.3 233.3h0M362.3 233.3h0M366.6 233.3h0M332.8 233.8h0M402.7 233.8h0M362.5 233.8h0M366.6 233.8h0M333.0 233.4h0M403.1 233.4h0M362.7 233.4h0M367.0 233.4h0M331.3 234.0h0M403.6 234.0h0M363.1 234.0h0M366.8 234.0h0M333.3 234.1h0M404.2 234.1h0M363.1 234.1h0M366.8 234.1h0M332.3 234.7h0M403.4 234.7h0M362.8 234.7h0M366.8 234.7h0M332.9 235.5h0M403.6 235.5h0M363.1 235.5h0M366.5 235.5h0M333.1 235.1h0M402.6 235.1h0M362.7 235.1h0M366.4 235.1h0M331.8 235.4h0M404.5 235.4h0M362.9 235.4h0M366.7 235.4h0M332.9 236.9h0M402.4 236.9h0M362.9 236.9h0M366.1 236.9h0M332.9 236.9h0M403.4 236.9h0M363.2 236.9h0M366.3 236.9h0M332.9 236.4h0M402.3 236.4h0M363.2 236.4h0M366.1 236.4h0M333.7 237.2h0M402.4 237.2h0M363.3 237.2h0M366.2 237.2h0M332.8 237.5h0M401.7 237.5h0M363.4 237.5h0M366.1 237.5h0M333.5 238.0h0M403.6 238.0h0M363.6 238.0h0M365.7 238.0h0M334.7 238.9h0M403.3 238.9h0M363.6 238.9h0M365.8 238.9h0M333.9 238.2h0M401.6 238.2h0M363.4 238.2h0M365.7 238.2h0M333.7 238.6h0M402.3 238.6h0M363.3 238.6h0M365.5 238.6h0M334.6 239.5h0M401.5 239.5h0M363.5 239.5h0M366.0 239.5h0M334.4 239.6h0M402.7 239.6h0M363.4 239.6h0M365.9 239.6h0M334.6 239.1h0M402.7 239.1h0M363.5 239.1h0M366.1 239.1h0M336.2 240.6h0M401.1 240.6h0M363.9 240.6h0M365.6 240.6h0M335.5 240.4h0M401.7 240.4h0M363.5 240.4h0M365.3 240.4h0M335.0 240.8h0M402.0 240.8h0M363.5 240.8h0M365.9 240.8h0M337.1 241.4h0M402.5 241.4h0M363.5 241.4h0M365.2 241.4h0M336.5 241.0h0M402.3 241.0h0M363.6 241.0h0M365.1 241.0h0M335.6 241.1h0M402.4 241.1h0M363.8 241.1h0M365.3 241.1h0M336.8 242.7h0M399.8 242.7h0M363.7 242.7h0M364.9 242.7h0M337.9 242.9h0M400.7 242.9h0M364.0 242.9h0M364.9 242.9h0M336.0 242.3h0M401.7 242.3h0M363.9 242.3h0M365.1 242.3h0M337.6 243.8h0M399.8 243.8h0M337.8 243.1h0M400.8 243.1h0M364.0 243.1h0M364.9 243.1h0M337.2 243.7h0M400.0 243.7h0M337.2 244.6h0M400.3 244.6h0M337.1 244.8h0M399.3 244.8h0M338.5 244.5h0M400.2 244.5h0M338.8 245.5h0M398.2 245.5h0M338.5 245.1h0M399.8 245.1h0M338.4 245.6h0M399.4 245.6h0M340.4 246.2h0M398.3 246.2h0M340.6 246.9h0M397.8 246.9h0M338.7 246.6h0M396.6 246.6h0M339.8 247.6h0M396.4 247.6h0M341.0 247.5h0M397.1 247.5h0M341.3 247.9h0M397.1 247.9h0M342.7 248.8h0M395.6 248.8h0M342.5 248.7h0M394.4 248.7h0M341.9 248.1h0M396.5 248.1h0M343.1 249.8h0M394.1 249.8h0M343.4 249.9h0M392.8 249.9h0M343.0 250.0h0M393.3 250.0h0M343.2 250.7h0M393.0 250.7h0M342.6 250.5h0M393.8 250.5h0M344.5 250.8h0M392.3 250.8h0M344.8 251.7h0M391.4 251.7h0M343.6 251.7h0M391.7 251.7h0M344.4 252.0h0M391.2 252.0h0M344.7 252.1h0M390.2 252.1h0M345.9 252.0h0M390.3 252.0h0M345.7 252.9h0M388.8 252.9h0M346.8 253.4h0M388.0 253.4h0M347.5 253.5h0M389.7 253.5h0M345.9 253.0h0M390.5 253.0h0M348.2 254.8h0M385.9 254.8h0M347.8 254.7h0M386.6 254.7h0M348.1 254.3h0M388.6 254.3h0M350.8 255.8h0M384.9 255.8h0M349.6 255.7h0M386.2 255.7h0M350.0 255.3h0M385.9 255.3h0M350.0 256.1h0M384.5 256.1h0M349.3 256.0h0M384.8 256.0h0M351.4 256.1h0M385.3 256.1h0M353.5 257.7h0M381.8 257.7h0M353.7 257.5h0M381.5 257.5h0M353.4 257.4h0M382.6 257.4h0M354.1 259.0h0M379.3 259.0h0M354.0 258.3h0M379.4 258.3h0M353.4 258.7h0M378.5 258.7h0M355.8 259.7h0M376.4 259.7h0M355.0 259.1h0M378.2 259.1h0M356.2 259.8h0M378.1 259.8h0M356.6 260.5h0M374.6 260.5h0M356.9 260.4h0M375.0 260.4h0M358.2 260.6h0M375.0 260.6h0M357.9 261.3h0M373.2 261.3h0M360.6 261.8h0M371.4 261.8h0M359.7 261.4h0M371.2 261.4h0M363.4 263.0h0M367.7 263.0h0M359.5 262.1h0M369.9 262.1h0M359.4 262.0h0M370.1 262.0h0M363.1 263.7h0M366.1 263.7h0M362.1 263.3h0M367.1 263.3h0M363.2 263.1h0M366.0 263.1h0M404.4 242.0h0M411.6 240.5h0M406.7 242.2h0M404.7 234.5h0M412.6 236.2h0M412.2 241.5h0M404.4 234.9h0M409.8 235.5h0M410.0 240.7h0M406.1 238.8h0M405.9 242.7h0M409.7 240.9h0M409.6 234.6h0M412.0 241.8h0M408.6 239.9h0M408.4 241.6h0M408.8 236.8h0M408.6 236.1h0M404.0 239.2h0M411.8 241.2h0M405.9 239.1h0M409.3 239.8h0M327.2 226.9h0M328.8 241.4h0M327.6 237.6h0M328.8 211.7h0M325.8 219.2h0M326.5 226.2h0M326.1 245.9h0M329.1 221.5h0M328.9 243.1h0M325.1 231.5h0M330.7 221.6h0M330.1 238.3h0M326.2 212.6h0M329.6 223.2h0M326.5 225.1h0M329.1 241.9h0M330.4 236.9h0M325.2 221.4h0M324.0 214.8h0M326.4 213.9h0M327.3 212.1h0M328.6 223.0h0M325.7 233.7h0M326.3 207.9h0M329.9 236.4h0M330.1 218.5h0M404.6 224.1h0M403.9 231.1h0M406.9 220.3h0M403.3 213.4h0M405.5 231.5h0M403.9 221.4h0M403.5 231.3h0M407.5 227.1h0M407.5 210.7h0M404.4 207.0h0M406.3 208.1h0M404.1 210.5h0M408.5 226.5h0M404.7 231.2h0M404.0 209.7h0M405.3 226.9h0M403.6 226.5h0M406.3 226.8h0M308.6 203.0h0M307.0 210.0h0M314.0 212.4h0M302.0 218.0h0M318.6 218.4h0M304.4 224.4h0M320.6 224.4h0M320.0 206.0h0M324.0 209.0h0M322.0 214.0h0M326.0 218.0h0M325.0 226.0h0M329.0 231.0h0M324.0 236.0h0M330.0 240.0h0M333.0 247.0h0M467.0 206.0h0M446.0 210.0h0M447.0 211.0h0M433.6 209.6h0M423.0 205.0h0M413.6 205.6h0M419.0 211.0h0M422.0 212.0h0M415.0 213.0h0M416.0 215.0h0M421.0 216.0h0M430.0 215.0h0M431.0 217.0h0M438.0 216.6h0M445.0 218.0h0M421.0 220.0h0M425.0 222.0h0M416.0 223.0h0M423.0 224.0h0M432.0 224.6h0M426.0 227.0h0M410.0 228.0h0M419.0 229.0h0M428.0 230.0h0M415.0 232.0h0M422.0 233.0h0M429.0 235.0h0M411.0 238.0h0M417.0 240.0h0M408.0 243.0h0M404.0 245.0h0M399.0 250.0h0M409.0 208.0h0M411.0 218.0h0M408.0 224.0h0M409.0 234.0h0" stroke="#bebebe" stroke-width="4.0" stroke-linecap="round" fill="none" opacity="1"/>
<path d="M374.7 199.5h0M397.4 193.6h0M378.3 200.8h0M378.5 189.4h0M387.8 193.5h0M395.5 200.3h0M373.9 194.5h0M372.6 195.4h0M412.0 189.9h0M413.3 195.1h0M397.5 195.2h0M390.0 197.7h0M384.8 198.7h0M396.4 200.6h0M400.2 187.6h0M396.3 201.4h0M378.4 192.0h0M394.8 180.3h0M390.6 199.4h0M412.8 198.8h0M376.5 196.6h0M378.3 196.4h0M395.7 201.7h0M388.3 194.8h0M402.1 192.4h0M371.4 201.7h0M374.7 195.6h0M400.6 198.6h0M398.0 201.8h0M417.9 201.5h0M381.3 183.3h0M385.3 201.2h0M425.8 194.0h0M371.6 198.5h0M376.0 198.6h0M382.8 191.1h0M372.9 197.2h0M384.7 201.5h0M383.6 201.6h0M373.4 202.0h0M413.0 196.9h0M390.3 192.1h0M408.3 199.3h0M389.0 200.3h0M374.5 199.1h0M416.8 198.6h0M396.8 198.8h0M385.4 190.9h0M392.6 193.8h0M376.8 202.2h0M372.1 199.3h0M403.5 188.1h0M400.3 182.1h0M400.7 183.1h0M393.0 202.1h0M375.7 192.1h0M394.7 197.3h0M403.9 201.0h0M403.7 200.3h0M386.1 194.7h0M374.2 198.0h0M401.6 200.1h0M422.7 199.2h0M388.0 186.9h0M381.7 200.4h0M393.5 190.3h0M389.6 199.5h0M397.4 191.7h0M395.7 185.0h0M387.1 196.9h0M404.3 201.9h0M386.1 199.0h0M378.7 201.9h0M402.5 200.6h0M390.7 202.2h0M372.2 197.8h0M382.7 199.4h0M398.6 199.5h0M389.1 191.5h0M380.6 189.7h0M386.3 202.2h0M406.9 181.1h0M375.1 198.8h0M378.3 192.8h0M379.9 188.1h0M409.6 197.9h0M402.7 191.7h0M381.4 202.2h0M394.8 189.5h0M410.4 187.5h0M378.3 201.9h0M396.0 201.4h0M381.5 196.5h0M405.3 201.8h0M392.4 200.3h0M397.6 196.2h0M394.0 197.2h0M389.7 182.0h0M385.7 201.3h0M403.7 189.9h0M404.2 196.4h0M376.5 191.3h0M402.7 185.0h0M403.5 183.9h0M391.7 195.9h0M396.3 200.6h0M390.3 198.2h0M400.8 200.2h0M399.0 195.8h0M386.1 198.4h0M401.1 199.3h0M378.6 199.9h0M397.4 202.2h0M406.5 199.6h0M377.4 192.6h0M382.8 185.8h0M389.2 199.1h0M392.6 199.9h0M385.5 193.7h0M377.8 189.0h0M388.7 202.2h0M371.3 200.5h0M412.8 202.0h0M394.3 187.6h0M399.7 197.5h0M413.3 195.3h0M381.9 201.5h0M404.0 185.1h0M389.7 192.7h0M390.3 191.9h0M383.3 196.6h0M384.7 196.0h0M423.2 194.5h0M387.7 199.2h0M382.5 189.9h0M376.7 198.9h0M397.3 176.2h0M384.5 198.7h0M404.3 196.5h0M373.1 196.3h0M393.2 200.4h0M380.3 201.0h0M389.1 196.6h0M375.6 192.9h0M397.1 195.0h0M400.5 183.5h0M371.4 200.5h0M387.8 190.5h0M379.5 197.6h0M374.3 194.3h0M406.5 200.2h0M403.3 196.4h0M383.2 174.7h0M380.7 201.0h0M412.3 194.7h0M374.7 201.8h0M385.9 199.8h0M403.9 199.2h0M394.8 176.5h0M401.0 201.3h0M379.2 187.6h0M397.7 186.5h0M371.7 201.8h0M383.2 193.2h0M404.9 202.3h0M383.0 195.7h0M409.2 190.9h0M382.0 198.5h0M409.8 193.5h0M385.1 198.0h0M404.0 198.6h0M399.5 192.7h0M371.9 197.2h0M403.2 168.4h0M397.6 202.2h0M388.4 194.7h0M396.9 201.6h0M398.5 197.9h0M387.9 197.7h0M383.6 193.2h0M394.6 192.1h0M406.8 199.1h0M386.4 183.1h0M391.7 199.4h0M402.6 202.1h0M433.1 201.8h0M397.0 193.6h0M400.2 198.6h0M380.7 188.0h0M383.9 197.6h0M404.4 197.7h0M418.7 195.6h0M398.0 186.0h0M390.4 199.0h0M394.6 193.1h0M388.0 199.2h0M405.2 195.3h0M394.1 186.9h0M405.9 190.2h0M416.2 199.0h0M386.7 190.2h0M385.3 199.2h0M404.7 189.5h0M393.6 191.7h0M400.8 199.9h0M378.8 199.0h0M392.9 200.3h0M377.9 198.3h0M390.5 202.3h0M382.1 200.9h0M383.4 200.2h0M384.9 193.1h0M389.7 202.1h0M390.1 196.4h0M404.0 186.1h0M402.0 195.8h0M374.5 186.9h0M391.0 195.7h0M400.1 190.2h0M372.6 199.8h0M389.0 201.5h0M383.7 183.2h0M383.4 199.1h0M373.9 194.8h0M376.5 196.4h0M373.1 202.0h0M379.6 184.6h0M374.5 198.7h0M414.2 199.4h0M393.9 186.0h0M393.7 196.3h0M399.6 197.6h0M394.2 199.9h0M388.4 179.7h0M383.4 198.8h0M388.3 191.7h0M397.4 200.0h0M377.4 201.5h0M379.6 195.2h0M382.3 200.5h0M407.3 187.1h0M387.0 198.1h0M387.0 181.8h0M381.3 200.8h0M394.7 197.8h0M395.8 197.4h0M380.9 193.0h0M402.9 196.1h0M384.4 193.6h0M397.3 201.8h0M394.3 201.4h0M385.4 198.0h0M386.8 197.1h0M399.3 190.7h0M389.6 200.3h0M398.8 196.3h0M400.2 198.3h0M396.4 196.8h0M412.6 195.7h0M378.5 201.1h0M376.8 202.1h0M387.3 197.0h0M379.5 202.2h0M376.1 201.6h0M387.1 198.8h0M400.8 201.1h0M403.8 199.6h0M396.7 201.7h0M407.8 197.8h0M401.8 201.2h0M387.6 186.8h0M384.5 197.4h0M378.1 200.3h0M408.0 201.3h0M388.7 177.3h0M380.9 201.5h0M404.2 182.1h0M401.6 200.2h0M391.2 201.8h0M385.8 200.0h0M403.4 174.4h0M395.7 184.2h0M373.5 193.4h0M378.8 194.4h0M389.5 201.6h0M385.1 201.5h0M378.7 193.3h0M400.4 198.5h0M374.9 187.2h0M393.5 194.9h0M393.1 191.2h0M403.3 190.6h0M377.9 194.8h0M402.9 195.3h0M388.3 200.1h0M401.8 183.2h0M403.3 193.6h0M390.9 187.7h0M393.1 202.0h0M382.8 201.5h0M356.3 199.0h0M346.1 192.9h0M345.6 173.5h0M331.5 201.7h0M336.2 201.5h0M334.9 192.8h0M348.7 186.0h0M342.3 174.9h0M350.5 190.5h0M352.4 201.7h0M347.4 199.2h0M353.9 198.2h0M358.9 193.5h0M342.3 183.6h0M347.4 200.8h0M343.7 195.8h0M349.2 197.9h0M357.7 200.4h0M343.3 197.9h0M358.4 202.3h0M338.5 189.7h0M334.9 198.2h0M345.2 192.6h0M353.4 199.7h0M355.4 192.8h0M343.1 196.6h0M334.1 201.3h0M348.6 198.8h0M343.8 201.4h0M354.5 199.2h0M353.2 201.0h0M330.8 195.8h0M346.0 194.3h0M347.9 189.8h0M342.4 192.7h0M352.3 201.2h0M359.2 196.7h0M355.5 200.4h0M339.9 200.2h0M356.6 181.1h0M340.7 187.6h0M355.0 198.1h0M336.8 198.6h0M352.8 197.3h0M341.9 201.0h0M354.4 195.7h0M332.6 196.9h0M355.3 199.6h0M334.3 201.1h0M350.6 196.1h0M357.9 188.3h0M356.6 179.3h0M350.6 192.5h0M342.0 189.6h0M347.0 187.2h0M342.7 198.7h0M351.5 193.7h0M342.8 200.8h0M357.1 200.6h0M331.7 198.5h0M342.4 202.2h0M343.1 200.3h0M342.0 193.9h0M337.4 199.3h0M345.7 198.5h0M351.4 201.9h0M341.4 199.0h0M332.1 200.9h0M353.5 186.2h0M342.6 196.8h0M339.7 195.6h0M346.3 201.9h0M339.7 192.8h0M357.6 194.3h0M346.8 201.1h0M344.1 194.3h0M350.5 191.8h0M349.2 194.3h0M357.5 200.9h0M331.9 185.7h0M345.4 200.3h0M336.2 198.3h0M344.5 200.6h0M345.4 187.8h0M339.9 174.6h0M334.8 201.9h0M349.2 196.4h0M339.1 199.0h0M349.9 201.0h0M333.4 201.7h0M349.4 200.6h0M344.5 186.4h0M337.9 196.5h0M357.8 199.3h0M341.5 190.8h0M345.9 195.4h0M357.2 201.5h0M340.9 200.2h0M340.6 196.8h0M358.1 184.7h0M341.5 199.5h0M349.7 188.6h0M338.6 201.0h0M357.0 185.6h0M341.2 196.6h0M351.4 196.9h0M348.2 190.5h0M350.3 201.3h0M358.8 195.2h0M354.3 199.7h0M351.1 194.6h0M358.3 199.0h0M345.2 194.7h0M356.5 202.0h0M354.6 196.2h0M338.0 202.2h0M348.6 195.9h0M342.9 190.0h0M342.4 202.1h0M331.5 202.3h0M348.0 199.7h0M350.2 200.6h0M353.6 173.8h0M354.3 200.0h0M338.8 202.1h0M353.9 193.0h0M357.2 202.1h0M343.0 195.5h0M340.3 190.5h0M335.8 197.6h0M349.8 194.7h0M354.5 202.2h0M351.7 201.3h0M336.0 197.1h0M346.6 201.1h0M357.4 193.6h0M353.2 177.5h0M342.0 200.9h0M342.3 194.1h0M342.9 182.3h0M348.7 193.8h0M350.0 187.4h0M337.7 201.4h0M356.9 198.4h0M334.4 194.4h0M332.6 202.0h0M358.1 193.7h0M354.4 190.7h0M337.8 197.5h0M345.5 194.8h0M341.7 198.2h0M354.2 201.3h0M342.5 186.9h0M345.6 201.2h0M337.8 199.0h0M347.4 178.4h0M337.4 200.0h0M344.9 193.5h0M359.7 200.4h0M348.4 184.7h0M353.7 202.1h0M360.4 196.9h0M355.5 194.5h0M339.9 198.9h0M358.4 200.9h0M357.0 195.2h0M354.8 198.5h0M339.2 198.3h0M339.5 198.3h0M340.3 197.0h0M355.4 195.6h0M347.6 196.8h0M334.5 194.2h0M345.9 199.2h0M346.8 202.2h0M332.1 197.9h0M331.3 201.4h0M358.0 188.5h0M340.0 189.0h0M344.4 198.4h0M352.5 193.6h0M345.3 197.4h0M358.7 196.4h0M344.2 172.7h0M359.6 201.6h0M338.0 200.4h0M337.3 193.8h0M346.7 202.1h0M346.0 200.4h0M335.5 196.8h0M351.1 201.8h0M341.0 192.5h0M348.5 196.2h0M337.2 195.9h0M340.5 194.8h0M336.0 184.9h0M341.4 193.3h0M350.6 194.3h0M358.8 200.6h0M360.9 198.4h0M337.6 122.4h0M331.4 135.4h0M314.4 137.4h0M273.0 153.0h0M276.4 160.4h0M313.0 154.0h0M323.4 158.6h0M334.0 164.0h0M320.0 167.6h0M324.4 168.6h0M338.0 170.0h0M284.0 184.0h0M331.4 176.6h0M335.0 179.4h0M341.0 180.0h0M329.6 185.4h0M334.0 189.0h0M317.6 190.0h0M312.4 192.6h0M301.6 197.6h0M324.4 195.0h0M318.0 200.6h0M372.4 129.0h0M396.6 128.6h0M392.0 136.4h0M348.0 147.0h0M352.6 146.4h0M356.6 151.6h0M345.0 155.0h0M376.6 151.6h0M378.0 155.0h0M357.0 161.0h0M357.0 170.0h0M400.0 151.6h0M404.0 151.4h0M408.0 154.0h0M414.0 153.6h0M401.0 160.0h0M405.0 160.0h0M392.0 165.0h0M401.0 165.6h0M405.0 163.6h0M378.0 168.0h0M383.0 169.0h0M394.0 169.0h0M408.0 174.0h0M410.5 174.0h0M416.0 142.0h0M384.0 174.0h0M353.0 175.6h0M415.0 56.0h0M448.6 79.0h0M436.6 86.0h0M476.0 89.4h0M466.4 94.6h0M444.0 114.0h0M442.6 118.6h0M443.0 125.0h0M417.0 127.6h0M380.2 97.6h0M415.6 141.6h0M436.0 143.4h0M428.0 146.0h0M408.4 145.0h0M481.6 151.0h0M460.4 157.0h0M413.6 154.0h0M407.0 152.0h0M428.0 161.0h0M417.0 166.0h0M431.0 173.4h0M436.0 174.0h0M435.0 176.0h0M440.0 177.6h0M424.4 178.0h0M445.0 184.0h0M449.0 182.6h0M451.0 183.0h0M456.0 187.4h0M462.6 188.0h0M470.0 193.6h0M461.0 198.0h0M452.4 199.6h0M423.0 184.0h0M423.0 187.0h0M388.0 160.0h0M397.0 158.0h0" stroke="#ff2a0a" stroke-width="4.2" stroke-linecap="round" fill="none" opacity="1"/>
<path d="M416 141L437 135M408.4 139L408.4 144M385 146L388 150M398 152L400 151.6M411 150L413 153" stroke="#333" stroke-width="0.5" fill="none"/>
<g font-size="4.84" fill="#111" text-anchor="middle" stroke="#111" stroke-width="0.05">
<text x="418" y="55.1">HSPB7</text>
<text x="452.3" y="77.7">LOC100056936</text>
<text x="433.8" y="90.7">LOC100056698</text>
<text x="479.8" y="87.7">GSTA1</text>
<text x="463.2" y="100.7">CXCL6</text>
<text x="447.3" y="112.3">S100A12</text>
<text x="432.5" y="118.7">IGFBP3</text>
<text x="442.5" y="130.1">CADM3</text>
<text x="421.8" y="132.7">SAA1</text>
<text x="399.5" y="127.1">SCN1B</text>
<text x="407.5" y="137.7">CA2</text>
<text x="454.5" y="136.3">LOC111773141</text>
<text x="425.5" y="140.3">PCDH15</text>
<text x="445" y="144.7">IL1R2</text>
<text x="377.5" y="103.3">PMEPA1</text>
<text x="341" y="120.7">LOC100630497</text>
<text x="368.5" y="127.1">AP2A1</text>
<text x="334.5" y="133.7">S100G</text>
<text x="383" y="134.1">LOC111768320</text>
<text x="347" y="144.1">SPRY2</text>
<text x="371.5" y="144.1">NOS3</text>
<text x="394" y="144.1">ADAMTSL2</text>
<text x="343" y="151.1">PPM1K</text>
<text x="365.5" y="150.1">ST3GAL4</text>
<text x="389" y="150.1">BHLHE22</text>
<text x="414.5" y="150.3">EFHD1</text>
<text x="431.3" y="150.7">TLX3</text>
<text x="482.5" y="149.1">KRT13</text>
<text x="369.5" y="156.1">BZW2</text>
<text x="400.5" y="156.5">KIAA1755</text>
<text x="340.5" y="160.0">TDRD12</text>
<text x="380.5" y="162.7">PLCXD3</text>
<text x="360.5" y="166.1">VEZF1</text>
<text x="410" y="164.7">ADM5</text>
<text x="421.5" y="158.7">RETN</text>
<text x="457.3" y="161.7">CAPN13</text>
<text x="335" y="170.1">LOC106783309</text>
<text x="385.5" y="170.1">KCNC3L2</text>
<text x="405" y="171.5">DPP1</text>
<text x="437.7" y="168.7">LOC100066131</text>
<text x="311.5" y="142.7">PTPRQ</text>
<text x="316.7" y="152.3">TMEFF2</text>
<text x="281.5" y="158.3">LOC100049851</text>
<text x="281.5" y="165.3">LOC111774958</text>
<text x="315.5" y="163.7">MUM1L1</text>
</g>
<rect x="263" y="46" width="229" height="226.39999999999998" fill="none" stroke="#c2c2c2" stroke-width="0.7"/>
<g font-size="6" fill="#666" text-anchor="middle">
<text x="306.2" y="280.5">-3</text>
<text x="364.6" y="280.5">0</text>
<text x="423.0" y="280.5">3</text>
<text x="481.3" y="280.5">6</text>
</g><g font-size="6" fill="#666" text-anchor="end">
<text x="261" y="265.1">0</text>
<text x="261" y="207.3">3</text>
<text x="261" y="149.6">6</text>
<text x="261" y="91.8">9</text>
</g>
<text x="377.0" y="288.6" font-size="7.3" text-anchor="middle" font-weight="normal" fill="#111" stroke="#111" stroke-width="0.08">log2FoldChange</text>
<text transform="translate(255,161.5) rotate(-90)" font-size="7.35" text-anchor="middle" fill="#111" stroke="#111" stroke-width="0.08">-log10(pvalue)</text>
<rect x="68.4" y="332.7" width="5.6" height="186.5" fill="#c9c9c9" stroke="#3a3a3a" stroke-width="0.7"/>
<rect x="74.0" y="340.4" width="5.6" height="178.8" fill="#c9c9c9" stroke="#3a3a3a" stroke-width="0.7"/>
<rect x="79.6" y="384.4" width="5.6" height="134.8" fill="#c9c9c9" stroke="#3a3a3a" stroke-width="0.7"/>
<rect x="85.2" y="405.4" width="5.6" height="113.8" fill="#c9c9c9" stroke="#3a3a3a" stroke-width="0.7"/>
<rect x="90.8" y="410.0" width="5.6" height="109.2" fill="#c9c9c9" stroke="#3a3a3a" stroke-width="0.7"/>
<rect x="96.4" y="422.5" width="5.6" height="96.7" fill="#c9c9c9" stroke="#3a3a3a" stroke-width="0.7"/>
<rect x="102.0" y="426.6" width="5.6" height="92.6" fill="#c9c9c9" stroke="#3a3a3a" stroke-width="0.7"/>
<rect x="107.6" y="431.6" width="5.6" height="87.6" fill="#c9c9c9" stroke="#3a3a3a" stroke-width="0.7"/>
<rect x="113.2" y="436.9" width="5.6" height="82.3" fill="#c9c9c9" stroke="#3a3a3a" stroke-width="0.7"/>
<rect x="118.8" y="431.9" width="5.6" height="87.3" fill="#c9c9c9" stroke="#3a3a3a" stroke-width="0.7"/>
<rect x="124.4" y="441.6" width="5.6" height="77.6" fill="#c9c9c9" stroke="#3a3a3a" stroke-width="0.7"/>
<rect x="130.0" y="441.6" width="5.6" height="77.6" fill="#c9c9c9" stroke="#3a3a3a" stroke-width="0.7"/>
<rect x="135.6" y="442.0" width="5.6" height="77.2" fill="#c9c9c9" stroke="#3a3a3a" stroke-width="0.7"/>
<rect x="141.2" y="441.5" width="5.6" height="77.7" fill="#c9c9c9" stroke="#3a3a3a" stroke-width="0.7"/>
<rect x="146.8" y="447.5" width="5.6" height="71.7" fill="#c9c9c9" stroke="#3a3a3a" stroke-width="0.7"/>
<rect x="152.4" y="446.5" width="5.6" height="72.7" fill="#c9c9c9" stroke="#3a3a3a" stroke-width="0.7"/>
<rect x="158.0" y="450.3" width="5.6" height="68.9" fill="#c9c9c9" stroke="#3a3a3a" stroke-width="0.7"/>
<rect x="163.6" y="450.3" width="5.6" height="68.9" fill="#c9c9c9" stroke="#3a3a3a" stroke-width="0.7"/>
<rect x="169.2" y="452.3" width="5.6" height="66.9" fill="#c9c9c9" stroke="#3a3a3a" stroke-width="0.7"/>
<rect x="174.8" y="449.3" width="5.6" height="69.9" fill="#c9c9c9" stroke="#3a3a3a" stroke-width="0.7"/>
<rect x="180.4" y="448.3" width="5.6" height="70.9" fill="#c9c9c9" stroke="#3a3a3a" stroke-width="0.7"/>
<rect x="186.0" y="450.3" width="5.6" height="68.9" fill="#c9c9c9" stroke="#3a3a3a" stroke-width="0.7"/>
<rect x="191.6" y="449.3" width="5.6" height="69.9" fill="#c9c9c9" stroke="#3a3a3a" stroke-width="0.7"/>
<rect x="197.2" y="449.3" width="5.6" height="69.9" fill="#c9c9c9" stroke="#3a3a3a" stroke-width="0.7"/>
<rect x="202.8" y="454.0" width="5.6" height="65.2" fill="#c9c9c9" stroke="#3a3a3a" stroke-width="0.7"/>
<rect x="208.4" y="451.3" width="5.6" height="67.9" fill="#c9c9c9" stroke="#3a3a3a" stroke-width="0.7"/>
<rect x="214.0" y="451.6" width="5.6" height="67.6" fill="#c9c9c9" stroke="#3a3a3a" stroke-width="0.7"/>
<rect x="219.6" y="455.3" width="5.6" height="63.9" fill="#c9c9c9" stroke="#3a3a3a" stroke-width="0.7"/>
<rect x="225.2" y="453.6" width="5.6" height="65.6" fill="#c9c9c9" stroke="#3a3a3a" stroke-width="0.7"/>
<rect x="230.8" y="484.4" width="5.6" height="34.8" fill="#c9c9c9" stroke="#3a3a3a" stroke-width="0.7"/>
<path d="M59.8 324V528.2H244" stroke="#6e6e6e" stroke-width="1.15" fill="none"/>
<path d="M58.3 519.2H60M58.3 456.6H60M58.3 394.0H60M58.3 331.4H60M70.8 528V529.7M111.4 528V529.7M152.0 528V529.7M192.6 528V529.7M233.2 528V529.7" stroke="#6e6e6e" stroke-width="0.7" fill="none"/>
<g font-size="7" fill="#484848" text-anchor="end">
<text x="57" y="521.7">0</text>
<text x="57" y="459.1">500</text>
<text x="57" y="396.5">1000</text>
<text x="57" y="333.9">1500</text>
</g><g font-size="7" fill="#484848" text-anchor="middle">
<text x="70.8" y="536.1">0.00</text>
<text x="111.4" y="536.1">0.25</text>
<text x="152.0" y="536.1">0.50</text>
<text x="192.6" y="536.1">0.75</text>
<text x="233.2" y="536.1">1.00</text>
</g>
<text x="152.6" y="544.8" font-size="9.4" text-anchor="middle" font-weight="normal" fill="#111" stroke="#111" stroke-width="0.12">pvalue</text>
<text transform="translate(38,425.8) rotate(-90)" font-size="9.2" text-anchor="middle" fill="#111" stroke="#111" stroke-width="0.12">count</text>
</g>
</svg></body></html>
